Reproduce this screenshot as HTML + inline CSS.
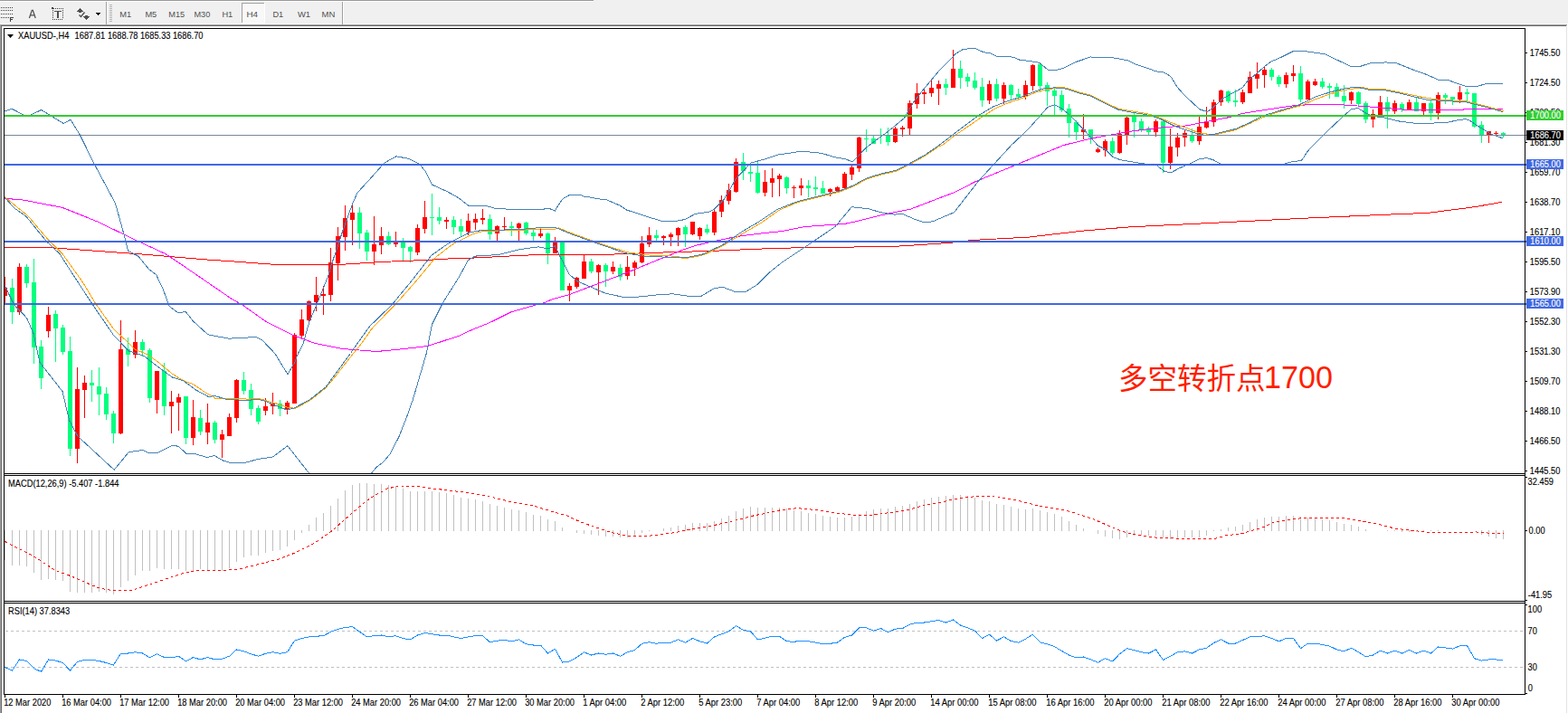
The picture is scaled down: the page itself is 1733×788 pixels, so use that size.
<!DOCTYPE html>
<html><head><meta charset="utf-8"><title>XAUUSD H4</title><style>html,body{margin:0;padding:0;background:#fff;overflow:hidden}body{width:1733px;height:788px}</style></head><body>
<svg width="1733" height="788" viewBox="0 0 1733 788" font-family="Liberation Sans, sans-serif" style="display:block">
<defs><clipPath id="cm"><rect x="5" y="32" width="1680" height="491"/></clipPath><clipPath id="c2"><rect x="5" y="526" width="1680" height="138"/></clipPath><clipPath id="c3"><rect x="5" y="667" width="1680" height="100"/></clipPath></defs>
<rect x="0" y="0" width="1733" height="788" fill="#fff"/>
<g shape-rendering="crispEdges">
<rect x="0" y="0" width="1733" height="27" fill="#f0f0f0"/>
<rect x="0" y="0" width="656" height="1" fill="#999"/>
<rect x="0" y="1" width="656" height="1" fill="#fff"/>
<rect x="0" y="26" width="1733" height="1" fill="#f7f7f7"/>
<rect x="0" y="27" width="1732" height="1" fill="#a0a0a0"/>
<rect x="1" y="28" width="1730" height="1" fill="#696969"/>
<rect x="0" y="27" width="1" height="761" fill="#a0a0a0"/>
<rect x="1" y="28" width="1" height="760" fill="#696969"/>
<rect x="1731" y="28" width="1" height="760" fill="#e3e3e3"/>
<rect x="1732" y="26" width="1" height="762" fill="#fff"/>
<rect x="1" y="8" width="1" height="1" fill="#404040"/>
<rect x="3" y="8" width="1" height="1" fill="#404040"/>
<rect x="5" y="8" width="1" height="1" fill="#404040"/>
<rect x="7" y="8" width="1" height="1" fill="#404040"/>
<rect x="9" y="8" width="1" height="1" fill="#404040"/>
<rect x="11" y="8" width="1" height="1" fill="#404040"/>
<rect x="13" y="8" width="1" height="1" fill="#404040"/>
<rect x="1" y="11" width="1" height="1" fill="#404040"/>
<rect x="3" y="11" width="1" height="1" fill="#404040"/>
<rect x="5" y="11" width="1" height="1" fill="#404040"/>
<rect x="7" y="11" width="1" height="1" fill="#404040"/>
<rect x="9" y="11" width="1" height="1" fill="#404040"/>
<rect x="11" y="11" width="1" height="1" fill="#404040"/>
<rect x="13" y="11" width="1" height="1" fill="#404040"/>
<rect x="1" y="15" width="1" height="1" fill="#404040"/>
<rect x="3" y="15" width="1" height="1" fill="#404040"/>
<rect x="5" y="15" width="1" height="1" fill="#404040"/>
<rect x="7" y="15" width="1" height="1" fill="#404040"/>
<rect x="9" y="15" width="1" height="1" fill="#404040"/>
<rect x="11" y="15" width="1" height="1" fill="#404040"/>
<rect x="13" y="15" width="1" height="1" fill="#404040"/>
<rect x="1" y="19" width="1" height="1" fill="#404040"/>
<rect x="3" y="19" width="1" height="1" fill="#404040"/>
<rect x="5" y="19" width="1" height="1" fill="#404040"/>
<rect x="7" y="19" width="1" height="1" fill="#404040"/>
<rect x="9" y="19" width="1" height="1" fill="#404040"/>
<rect x="11" y="19" width="1" height="5" fill="#404040"/>
<rect x="11" y="19" width="4" height="1" fill="#404040"/>
<rect x="11" y="21" width="3" height="1" fill="#404040"/>
<rect x="61" y="9" width="1" height="1" fill="#404040"/>
<rect x="63" y="9" width="1" height="1" fill="#404040"/>
<rect x="65" y="9" width="1" height="1" fill="#404040"/>
<rect x="67" y="9" width="1" height="1" fill="#404040"/>
<rect x="69" y="9" width="1" height="1" fill="#404040"/>
<rect x="58" y="21" width="1" height="1" fill="#404040"/>
<rect x="60" y="21" width="1" height="1" fill="#404040"/>
<rect x="62" y="21" width="1" height="1" fill="#404040"/>
<rect x="64" y="21" width="1" height="1" fill="#404040"/>
<rect x="66" y="21" width="1" height="1" fill="#404040"/>
<rect x="68" y="21" width="1" height="1" fill="#404040"/>
<rect x="58" y="11" width="1" height="1" fill="#404040"/>
<rect x="69" y="11" width="1" height="1" fill="#404040"/>
<rect x="58" y="13" width="1" height="1" fill="#404040"/>
<rect x="69" y="13" width="1" height="1" fill="#404040"/>
<rect x="58" y="15" width="1" height="1" fill="#404040"/>
<rect x="69" y="15" width="1" height="1" fill="#404040"/>
<rect x="58" y="17" width="1" height="1" fill="#404040"/>
<rect x="69" y="17" width="1" height="1" fill="#404040"/>
<rect x="58" y="19" width="1" height="1" fill="#404040"/>
<rect x="69" y="19" width="1" height="1" fill="#404040"/>
<rect x="57" y="8" width="2" height="1" fill="#404040"/>
<rect x="57" y="9" width="3" height="1" fill="#404040"/>
<rect x="60" y="12" width="8" height="1" fill="#505050"/>
<rect x="63" y="12" width="2" height="8" fill="#505050"/>
<rect x="88" y="9" width="1" height="1" fill="#505050"/>
<rect x="87" y="10" width="3" height="1" fill="#505050"/>
<rect x="86" y="11" width="5" height="1" fill="#505050"/>
<rect x="85" y="12" width="7" height="1" fill="#505050"/>
<rect x="87" y="13" width="3" height="1" fill="#505050"/>
<rect x="92" y="18" width="7" height="1" fill="#505050"/>
<rect x="93" y="19" width="5" height="1" fill="#505050"/>
<rect x="94" y="20" width="3" height="1" fill="#505050"/>
<rect x="95" y="21" width="1" height="1" fill="#505050"/>
<rect x="94" y="17" width="3" height="1" fill="#505050"/>
<rect x="106" y="14" width="5" height="1" fill="#000"/>
<rect x="107" y="15" width="3" height="1" fill="#000"/>
<rect x="108" y="16" width="1" height="1" fill="#000"/>
<rect x="117" y="2" width="1" height="25" fill="#a0a0a0"/>
<rect x="118" y="2" width="1" height="25" fill="#fff"/>
<rect x="378" y="2" width="1" height="25" fill="#a0a0a0"/>
<rect x="379" y="2" width="1" height="25" fill="#fff"/>
<rect x="121" y="5" width="3" height="1" fill="#b4b4b4"/>
<rect x="121" y="7" width="3" height="1" fill="#b4b4b4"/>
<rect x="121" y="9" width="3" height="1" fill="#b4b4b4"/>
<rect x="121" y="11" width="3" height="1" fill="#b4b4b4"/>
<rect x="121" y="13" width="3" height="1" fill="#b4b4b4"/>
<rect x="121" y="15" width="3" height="1" fill="#b4b4b4"/>
<rect x="121" y="17" width="3" height="1" fill="#b4b4b4"/>
<rect x="121" y="19" width="3" height="1" fill="#b4b4b4"/>
<rect x="121" y="21" width="3" height="1" fill="#b4b4b4"/>
<rect x="121" y="23" width="3" height="1" fill="#b4b4b4"/>
<rect x="268" y="4" width="24" height="21" fill="#f8f8f8"/>
<rect x="267" y="3" width="25" height="1" fill="#a0a0a0"/>
<rect x="267" y="3" width="1" height="22" fill="#a0a0a0"/>
<rect x="267" y="25" width="26" height="1" fill="#fff"/>
<rect x="292" y="3" width="1" height="23" fill="#fff"/>
</g>
<polyline points="87.5,16.5 89.5,18.5 93.5,13.5" fill="none" stroke="#505050" stroke-width="1.4"/>
<path d="M32.4 20L35.3 11.4H36.3L39.2 20M33.6 16.9H38" fill="none" stroke="#505050" stroke-width="1.25"/>
<text x="132.3" y="19" font-size="9.8" fill="#505050" textLength="12.9" lengthAdjust="spacingAndGlyphs" xml:space="preserve">M1</text>
<text x="160.4" y="19" font-size="9.8" fill="#505050" textLength="12.9" lengthAdjust="spacingAndGlyphs" xml:space="preserve">M5</text>
<text x="186.3" y="19" font-size="9.8" fill="#505050" textLength="17.9" lengthAdjust="spacingAndGlyphs" xml:space="preserve">M15</text>
<text x="214.5" y="19" font-size="9.8" fill="#505050" textLength="17.8" lengthAdjust="spacingAndGlyphs" xml:space="preserve">M30</text>
<text x="245.4" y="19" font-size="9.8" fill="#505050" textLength="11.9" lengthAdjust="spacingAndGlyphs" xml:space="preserve">H1</text>
<text x="272.4" y="19" font-size="9.8" fill="#505050" textLength="12.6" lengthAdjust="spacingAndGlyphs" xml:space="preserve">H4</text>
<text x="301.4" y="19" font-size="9.8" fill="#505050" textLength="11.8" lengthAdjust="spacingAndGlyphs" xml:space="preserve">D1</text>
<text x="328.9" y="19" font-size="9.8" fill="#505050" textLength="14.2" lengthAdjust="spacingAndGlyphs" xml:space="preserve">W1</text>
<text x="355.6" y="19" font-size="9.8" fill="#505050" textLength="14.8" lengthAdjust="spacingAndGlyphs" xml:space="preserve">MN</text>
<g shape-rendering="crispEdges">
<rect x="4" y="31" width="1" height="737" fill="#000"/>
<rect x="1685" y="31" width="1" height="737" fill="#000"/>
<rect x="4" y="31" width="1682" height="1" fill="#000"/>
<rect x="4" y="523" width="1682" height="1" fill="#000"/>
<rect x="4" y="525" width="1682" height="1" fill="#000"/>
<rect x="4" y="664" width="1682" height="1" fill="#000"/>
<rect x="4" y="666" width="1682" height="1" fill="#000"/>
<rect x="4" y="767" width="1682" height="1" fill="#000"/>
<rect x="1686" y="58" width="2" height="1" fill="#000"/>
<rect x="1686" y="91" width="2" height="1" fill="#000"/>
<rect x="1686" y="124" width="2" height="1" fill="#000"/>
<rect x="1686" y="157" width="2" height="1" fill="#000"/>
<rect x="1686" y="190" width="2" height="1" fill="#000"/>
<rect x="1686" y="223" width="2" height="1" fill="#000"/>
<rect x="1686" y="256" width="2" height="1" fill="#000"/>
<rect x="1686" y="289" width="2" height="1" fill="#000"/>
<rect x="1686" y="322" width="2" height="1" fill="#000"/>
<rect x="1686" y="355" width="2" height="1" fill="#000"/>
<rect x="1686" y="388" width="2" height="1" fill="#000"/>
<rect x="1686" y="421" width="2" height="1" fill="#000"/>
<rect x="1686" y="454" width="2" height="1" fill="#000"/>
<rect x="1686" y="487" width="2" height="1" fill="#000"/>
<rect x="1686" y="520" width="2" height="1" fill="#000"/>
<rect x="1686" y="527" width="2" height="1" fill="#000"/>
<rect x="1686" y="586" width="2" height="1" fill="#000"/>
<rect x="1686" y="663" width="2" height="1" fill="#000"/>
<rect x="1686" y="668" width="2" height="1" fill="#000"/>
<rect x="1686" y="766" width="2" height="1" fill="#000"/>
<rect x="5" y="768" width="1" height="3" fill="#000"/>
<rect x="69" y="768" width="1" height="3" fill="#000"/>
<rect x="133" y="768" width="1" height="3" fill="#000"/>
<rect x="197" y="768" width="1" height="3" fill="#000"/>
<rect x="261" y="768" width="1" height="3" fill="#000"/>
<rect x="325" y="768" width="1" height="3" fill="#000"/>
<rect x="389" y="768" width="1" height="3" fill="#000"/>
<rect x="453" y="768" width="1" height="3" fill="#000"/>
<rect x="517" y="768" width="1" height="3" fill="#000"/>
<rect x="581" y="768" width="1" height="3" fill="#000"/>
<rect x="645" y="768" width="1" height="3" fill="#000"/>
<rect x="709" y="768" width="1" height="3" fill="#000"/>
<rect x="773" y="768" width="1" height="3" fill="#000"/>
<rect x="837" y="768" width="1" height="3" fill="#000"/>
<rect x="901" y="768" width="1" height="3" fill="#000"/>
<rect x="965" y="768" width="1" height="3" fill="#000"/>
<rect x="1029" y="768" width="1" height="3" fill="#000"/>
<rect x="1093" y="768" width="1" height="3" fill="#000"/>
<rect x="1157" y="768" width="1" height="3" fill="#000"/>
<rect x="1221" y="768" width="1" height="3" fill="#000"/>
<rect x="1285" y="768" width="1" height="3" fill="#000"/>
<rect x="1349" y="768" width="1" height="3" fill="#000"/>
<rect x="1413" y="768" width="1" height="3" fill="#000"/>
<rect x="1477" y="768" width="1" height="3" fill="#000"/>
<rect x="1541" y="768" width="1" height="3" fill="#000"/>
<rect x="1605" y="768" width="1" height="3" fill="#000"/>
</g>
<g clip-path="url(#cm)" shape-rendering="crispEdges">
<rect x="5" y="306" width="1" height="30" fill="#ff0000"/>
<rect x="3" y="318" width="5" height="9" fill="#ff0000"/>
<rect x="13" y="308" width="1" height="50" fill="#00ff7f"/>
<rect x="11" y="318" width="5" height="27" fill="#00ff7f"/>
<rect x="21" y="291" width="1" height="57" fill="#ff0000"/>
<rect x="19" y="295" width="5" height="50" fill="#ff0000"/>
<rect x="29" y="292" width="1" height="26" fill="#00ff7f"/>
<rect x="27" y="295" width="5" height="18" fill="#00ff7f"/>
<rect x="37" y="286" width="1" height="116" fill="#00ff7f"/>
<rect x="35" y="312" width="5" height="72" fill="#00ff7f"/>
<rect x="45" y="376" width="1" height="54" fill="#00ff7f"/>
<rect x="43" y="383" width="5" height="35" fill="#00ff7f"/>
<rect x="53" y="339" width="1" height="34" fill="#ff0000"/>
<rect x="51" y="348" width="5" height="18" fill="#ff0000"/>
<rect x="61" y="343" width="1" height="57" fill="#00ff7f"/>
<rect x="59" y="347" width="5" height="16" fill="#00ff7f"/>
<rect x="69" y="359" width="1" height="33" fill="#00ff7f"/>
<rect x="67" y="362" width="5" height="27" fill="#00ff7f"/>
<rect x="77" y="372" width="1" height="132" fill="#00ff7f"/>
<rect x="75" y="388" width="5" height="108" fill="#00ff7f"/>
<rect x="85" y="406" width="1" height="106" fill="#ff0000"/>
<rect x="83" y="430" width="5" height="66" fill="#ff0000"/>
<rect x="93" y="415" width="1" height="47" fill="#ff0000"/>
<rect x="91" y="423" width="5" height="8" fill="#ff0000"/>
<rect x="101" y="409" width="1" height="35" fill="#00ff7f"/>
<rect x="99" y="423" width="5" height="3" fill="#00ff7f"/>
<rect x="109" y="406" width="1" height="53" fill="#00ff7f"/>
<rect x="107" y="427" width="5" height="9" fill="#00ff7f"/>
<rect x="117" y="428" width="1" height="36" fill="#00ff7f"/>
<rect x="115" y="435" width="5" height="23" fill="#00ff7f"/>
<rect x="125" y="454" width="1" height="36" fill="#00ff7f"/>
<rect x="123" y="457" width="5" height="22" fill="#00ff7f"/>
<rect x="133" y="354" width="1" height="126" fill="#ff0000"/>
<rect x="131" y="386" width="5" height="93" fill="#ff0000"/>
<rect x="141" y="373" width="1" height="32" fill="#00ff7f"/>
<rect x="139" y="386" width="5" height="6" fill="#00ff7f"/>
<rect x="149" y="365" width="1" height="31" fill="#ff0000"/>
<rect x="147" y="378" width="5" height="14" fill="#ff0000"/>
<rect x="157" y="375" width="1" height="19" fill="#00ff7f"/>
<rect x="155" y="378" width="5" height="9" fill="#00ff7f"/>
<rect x="165" y="385" width="1" height="60" fill="#00ff7f"/>
<rect x="163" y="387" width="5" height="53" fill="#00ff7f"/>
<rect x="173" y="410" width="1" height="47" fill="#ff0000"/>
<rect x="171" y="410" width="5" height="32" fill="#ff0000"/>
<rect x="181" y="401" width="1" height="58" fill="#00ff7f"/>
<rect x="179" y="410" width="5" height="39" fill="#00ff7f"/>
<rect x="189" y="432" width="1" height="47" fill="#ff0000"/>
<rect x="187" y="444" width="5" height="5" fill="#ff0000"/>
<rect x="197" y="435" width="1" height="41" fill="#ff0000"/>
<rect x="195" y="439" width="5" height="6" fill="#ff0000"/>
<rect x="205" y="438" width="1" height="53" fill="#00ff7f"/>
<rect x="203" y="438" width="5" height="46" fill="#00ff7f"/>
<rect x="213" y="442" width="1" height="50" fill="#ff0000"/>
<rect x="211" y="461" width="5" height="23" fill="#ff0000"/>
<rect x="221" y="453" width="1" height="28" fill="#00ff7f"/>
<rect x="219" y="462" width="5" height="15" fill="#00ff7f"/>
<rect x="229" y="446" width="1" height="45" fill="#ff0000"/>
<rect x="227" y="467" width="5" height="11" fill="#ff0000"/>
<rect x="237" y="465" width="1" height="25" fill="#00ff7f"/>
<rect x="235" y="467" width="5" height="19" fill="#00ff7f"/>
<rect x="245" y="475" width="1" height="31" fill="#ff0000"/>
<rect x="243" y="480" width="5" height="6" fill="#ff0000"/>
<rect x="253" y="457" width="1" height="25" fill="#ff0000"/>
<rect x="251" y="461" width="5" height="21" fill="#ff0000"/>
<rect x="261" y="419" width="1" height="48" fill="#ff0000"/>
<rect x="259" y="420" width="5" height="42" fill="#ff0000"/>
<rect x="269" y="411" width="1" height="25" fill="#00ff7f"/>
<rect x="267" y="420" width="5" height="12" fill="#00ff7f"/>
<rect x="277" y="424" width="1" height="35" fill="#00ff7f"/>
<rect x="275" y="431" width="5" height="21" fill="#00ff7f"/>
<rect x="285" y="448" width="1" height="21" fill="#00ff7f"/>
<rect x="283" y="451" width="5" height="15" fill="#00ff7f"/>
<rect x="293" y="440" width="1" height="19" fill="#ff0000"/>
<rect x="291" y="449" width="5" height="5" fill="#ff0000"/>
<rect x="301" y="434" width="1" height="24" fill="#ff0000"/>
<rect x="299" y="446" width="5" height="3" fill="#ff0000"/>
<rect x="309" y="442" width="1" height="18" fill="#00ff7f"/>
<rect x="307" y="446" width="5" height="6" fill="#00ff7f"/>
<rect x="317" y="443" width="1" height="15" fill="#ff0000"/>
<rect x="315" y="445" width="5" height="7" fill="#ff0000"/>
<rect x="325" y="368" width="1" height="78" fill="#ff0000"/>
<rect x="323" y="370" width="5" height="76" fill="#ff0000"/>
<rect x="333" y="342" width="1" height="32" fill="#ff0000"/>
<rect x="331" y="353" width="5" height="18" fill="#ff0000"/>
<rect x="341" y="332" width="1" height="25" fill="#ff0000"/>
<rect x="339" y="333" width="5" height="21" fill="#ff0000"/>
<rect x="349" y="306" width="1" height="38" fill="#ff0000"/>
<rect x="347" y="326" width="5" height="8" fill="#ff0000"/>
<rect x="357" y="316" width="1" height="32" fill="#ff0000"/>
<rect x="355" y="325" width="5" height="2" fill="#ff0000"/>
<rect x="365" y="274" width="1" height="59" fill="#ff0000"/>
<rect x="363" y="290" width="5" height="36" fill="#ff0000"/>
<rect x="373" y="251" width="1" height="59" fill="#ff0000"/>
<rect x="371" y="261" width="5" height="30" fill="#ff0000"/>
<rect x="381" y="227" width="1" height="50" fill="#ff0000"/>
<rect x="379" y="241" width="5" height="21" fill="#ff0000"/>
<rect x="389" y="225" width="1" height="46" fill="#ff0000"/>
<rect x="387" y="235" width="5" height="8" fill="#ff0000"/>
<rect x="397" y="229" width="1" height="46" fill="#00ff7f"/>
<rect x="395" y="235" width="5" height="23" fill="#00ff7f"/>
<rect x="405" y="254" width="1" height="34" fill="#00ff7f"/>
<rect x="403" y="257" width="5" height="21" fill="#00ff7f"/>
<rect x="413" y="239" width="1" height="54" fill="#ff0000"/>
<rect x="411" y="270" width="5" height="8" fill="#ff0000"/>
<rect x="421" y="251" width="1" height="30" fill="#ff0000"/>
<rect x="419" y="261" width="5" height="10" fill="#ff0000"/>
<rect x="429" y="256" width="1" height="15" fill="#00ff7f"/>
<rect x="427" y="261" width="5" height="9" fill="#00ff7f"/>
<rect x="437" y="256" width="1" height="17" fill="#ff0000"/>
<rect x="435" y="268" width="5" height="2" fill="#ff0000"/>
<rect x="445" y="263" width="1" height="25" fill="#00ff7f"/>
<rect x="443" y="268" width="5" height="6" fill="#00ff7f"/>
<rect x="453" y="272" width="1" height="18" fill="#00ff7f"/>
<rect x="451" y="273" width="5" height="5" fill="#00ff7f"/>
<rect x="461" y="248" width="1" height="34" fill="#ff0000"/>
<rect x="459" y="252" width="5" height="27" fill="#ff0000"/>
<rect x="469" y="222" width="1" height="36" fill="#ff0000"/>
<rect x="467" y="240" width="5" height="13" fill="#ff0000"/>
<rect x="477" y="214" width="1" height="46" fill="#00ff7f"/>
<rect x="475" y="240" width="5" height="1" fill="#00ff7f"/>
<rect x="485" y="229" width="1" height="19" fill="#00ff7f"/>
<rect x="483" y="240" width="5" height="4" fill="#00ff7f"/>
<rect x="493" y="240" width="1" height="13" fill="#ff0000"/>
<rect x="491" y="243" width="5" height="2" fill="#ff0000"/>
<rect x="501" y="239" width="1" height="20" fill="#00ff7f"/>
<rect x="499" y="243" width="5" height="8" fill="#00ff7f"/>
<rect x="509" y="242" width="1" height="19" fill="#00ff7f"/>
<rect x="507" y="250" width="5" height="6" fill="#00ff7f"/>
<rect x="517" y="236" width="1" height="24" fill="#ff0000"/>
<rect x="515" y="244" width="5" height="12" fill="#ff0000"/>
<rect x="525" y="236" width="1" height="18" fill="#ff0000"/>
<rect x="523" y="242" width="5" height="4" fill="#ff0000"/>
<rect x="533" y="231" width="1" height="17" fill="#ff0000"/>
<rect x="531" y="241" width="5" height="2" fill="#ff0000"/>
<rect x="541" y="237" width="1" height="28" fill="#00ff7f"/>
<rect x="539" y="242" width="5" height="17" fill="#00ff7f"/>
<rect x="549" y="249" width="1" height="17" fill="#ff0000"/>
<rect x="547" y="250" width="5" height="8" fill="#ff0000"/>
<rect x="557" y="240" width="1" height="15" fill="#ff0000"/>
<rect x="555" y="250" width="5" height="1" fill="#ff0000"/>
<rect x="565" y="245" width="1" height="16" fill="#00ff7f"/>
<rect x="563" y="250" width="5" height="2" fill="#00ff7f"/>
<rect x="573" y="246" width="1" height="20" fill="#ff0000"/>
<rect x="571" y="247" width="5" height="5" fill="#ff0000"/>
<rect x="581" y="245" width="1" height="15" fill="#00ff7f"/>
<rect x="579" y="246" width="5" height="12" fill="#00ff7f"/>
<rect x="589" y="254" width="1" height="12" fill="#00ff7f"/>
<rect x="587" y="257" width="5" height="4" fill="#00ff7f"/>
<rect x="597" y="253" width="1" height="10" fill="#ff0000"/>
<rect x="595" y="258" width="5" height="3" fill="#ff0000"/>
<rect x="605" y="257" width="1" height="35" fill="#00ff7f"/>
<rect x="603" y="258" width="5" height="22" fill="#00ff7f"/>
<rect x="613" y="262" width="1" height="18" fill="#ff0000"/>
<rect x="611" y="267" width="5" height="13" fill="#ff0000"/>
<rect x="621" y="268" width="1" height="53" fill="#00ff7f"/>
<rect x="619" y="268" width="5" height="53" fill="#00ff7f"/>
<rect x="629" y="313" width="1" height="20" fill="#ff0000"/>
<rect x="627" y="316" width="5" height="5" fill="#ff0000"/>
<rect x="637" y="306" width="1" height="13" fill="#ff0000"/>
<rect x="635" y="307" width="5" height="10" fill="#ff0000"/>
<rect x="645" y="281" width="1" height="27" fill="#ff0000"/>
<rect x="643" y="289" width="5" height="19" fill="#ff0000"/>
<rect x="653" y="286" width="1" height="16" fill="#00ff7f"/>
<rect x="651" y="289" width="5" height="11" fill="#00ff7f"/>
<rect x="661" y="292" width="1" height="34" fill="#ff0000"/>
<rect x="659" y="293" width="5" height="8" fill="#ff0000"/>
<rect x="669" y="291" width="1" height="26" fill="#00ff7f"/>
<rect x="667" y="293" width="5" height="7" fill="#00ff7f"/>
<rect x="677" y="289" width="1" height="14" fill="#ff0000"/>
<rect x="675" y="295" width="5" height="5" fill="#ff0000"/>
<rect x="685" y="292" width="1" height="18" fill="#00ff7f"/>
<rect x="683" y="296" width="5" height="10" fill="#00ff7f"/>
<rect x="693" y="283" width="1" height="26" fill="#ff0000"/>
<rect x="691" y="295" width="5" height="10" fill="#ff0000"/>
<rect x="701" y="288" width="1" height="17" fill="#ff0000"/>
<rect x="699" y="290" width="5" height="6" fill="#ff0000"/>
<rect x="709" y="261" width="1" height="30" fill="#ff0000"/>
<rect x="707" y="269" width="5" height="21" fill="#ff0000"/>
<rect x="717" y="251" width="1" height="22" fill="#ff0000"/>
<rect x="715" y="260" width="5" height="10" fill="#ff0000"/>
<rect x="725" y="254" width="1" height="12" fill="#00ff7f"/>
<rect x="723" y="260" width="5" height="3" fill="#00ff7f"/>
<rect x="733" y="260" width="1" height="11" fill="#ff0000"/>
<rect x="731" y="261" width="5" height="2" fill="#ff0000"/>
<rect x="741" y="257" width="1" height="15" fill="#ff0000"/>
<rect x="739" y="259" width="5" height="3" fill="#ff0000"/>
<rect x="749" y="251" width="1" height="21" fill="#ff0000"/>
<rect x="747" y="252" width="5" height="8" fill="#ff0000"/>
<rect x="757" y="249" width="1" height="24" fill="#00ff7f"/>
<rect x="755" y="251" width="5" height="8" fill="#00ff7f"/>
<rect x="765" y="245" width="1" height="15" fill="#ff0000"/>
<rect x="763" y="245" width="5" height="14" fill="#ff0000"/>
<rect x="773" y="251" width="1" height="14" fill="#ff0000"/>
<rect x="771" y="252" width="5" height="9" fill="#ff0000"/>
<rect x="781" y="248" width="1" height="11" fill="#00ff7f"/>
<rect x="779" y="253" width="5" height="4" fill="#00ff7f"/>
<rect x="789" y="231" width="1" height="29" fill="#ff0000"/>
<rect x="787" y="234" width="5" height="23" fill="#ff0000"/>
<rect x="797" y="216" width="1" height="24" fill="#ff0000"/>
<rect x="795" y="221" width="5" height="13" fill="#ff0000"/>
<rect x="805" y="203" width="1" height="23" fill="#ff0000"/>
<rect x="803" y="210" width="5" height="12" fill="#ff0000"/>
<rect x="813" y="175" width="1" height="38" fill="#ff0000"/>
<rect x="811" y="179" width="5" height="33" fill="#ff0000"/>
<rect x="821" y="169" width="1" height="30" fill="#00ff7f"/>
<rect x="819" y="179" width="5" height="10" fill="#00ff7f"/>
<rect x="829" y="182" width="1" height="19" fill="#00ff7f"/>
<rect x="827" y="190" width="5" height="2" fill="#00ff7f"/>
<rect x="837" y="178" width="1" height="36" fill="#00ff7f"/>
<rect x="835" y="191" width="5" height="22" fill="#00ff7f"/>
<rect x="845" y="188" width="1" height="29" fill="#ff0000"/>
<rect x="843" y="201" width="5" height="12" fill="#ff0000"/>
<rect x="853" y="186" width="1" height="32" fill="#ff0000"/>
<rect x="851" y="197" width="5" height="5" fill="#ff0000"/>
<rect x="861" y="192" width="1" height="25" fill="#ff0000"/>
<rect x="859" y="194" width="5" height="4" fill="#ff0000"/>
<rect x="869" y="195" width="1" height="19" fill="#00ff7f"/>
<rect x="867" y="196" width="5" height="12" fill="#00ff7f"/>
<rect x="877" y="205" width="1" height="14" fill="#ff0000"/>
<rect x="875" y="207" width="5" height="1" fill="#ff0000"/>
<rect x="885" y="197" width="1" height="19" fill="#ff0000"/>
<rect x="883" y="205" width="5" height="3" fill="#ff0000"/>
<rect x="893" y="199" width="1" height="19" fill="#00ff7f"/>
<rect x="891" y="205" width="5" height="3" fill="#00ff7f"/>
<rect x="901" y="195" width="1" height="21" fill="#00ff7f"/>
<rect x="899" y="207" width="5" height="2" fill="#00ff7f"/>
<rect x="909" y="200" width="1" height="14" fill="#00ff7f"/>
<rect x="907" y="208" width="5" height="6" fill="#00ff7f"/>
<rect x="917" y="208" width="1" height="9" fill="#ff0000"/>
<rect x="915" y="209" width="5" height="3" fill="#ff0000"/>
<rect x="925" y="206" width="1" height="6" fill="#ff0000"/>
<rect x="923" y="207" width="5" height="4" fill="#ff0000"/>
<rect x="933" y="190" width="1" height="18" fill="#ff0000"/>
<rect x="931" y="192" width="5" height="16" fill="#ff0000"/>
<rect x="941" y="183" width="1" height="16" fill="#ff0000"/>
<rect x="939" y="185" width="5" height="8" fill="#ff0000"/>
<rect x="949" y="151" width="1" height="39" fill="#ff0000"/>
<rect x="947" y="152" width="5" height="34" fill="#ff0000"/>
<rect x="957" y="143" width="1" height="25" fill="#00ff7f"/>
<rect x="955" y="153" width="5" height="1" fill="#00ff7f"/>
<rect x="965" y="150" width="1" height="9" fill="#00ff7f"/>
<rect x="963" y="153" width="5" height="6" fill="#00ff7f"/>
<rect x="973" y="142" width="1" height="17" fill="#00ff7f"/>
<rect x="971" y="149" width="5" height="1" fill="#00ff7f"/>
<rect x="981" y="141" width="1" height="20" fill="#00ff7f"/>
<rect x="979" y="149" width="5" height="8" fill="#00ff7f"/>
<rect x="989" y="140" width="1" height="18" fill="#ff0000"/>
<rect x="987" y="142" width="5" height="15" fill="#ff0000"/>
<rect x="997" y="139" width="1" height="12" fill="#ff0000"/>
<rect x="995" y="141" width="5" height="2" fill="#ff0000"/>
<rect x="1005" y="111" width="1" height="39" fill="#ff0000"/>
<rect x="1003" y="114" width="5" height="28" fill="#ff0000"/>
<rect x="1013" y="92" width="1" height="28" fill="#ff0000"/>
<rect x="1011" y="103" width="5" height="12" fill="#ff0000"/>
<rect x="1021" y="97" width="1" height="18" fill="#ff0000"/>
<rect x="1019" y="102" width="5" height="2" fill="#ff0000"/>
<rect x="1029" y="89" width="1" height="18" fill="#ff0000"/>
<rect x="1027" y="97" width="5" height="6" fill="#ff0000"/>
<rect x="1037" y="89" width="1" height="27" fill="#ff0000"/>
<rect x="1035" y="93" width="5" height="5" fill="#ff0000"/>
<rect x="1045" y="87" width="1" height="18" fill="#00ff7f"/>
<rect x="1043" y="93" width="5" height="4" fill="#00ff7f"/>
<rect x="1053" y="55" width="1" height="42" fill="#ff0000"/>
<rect x="1051" y="76" width="5" height="21" fill="#ff0000"/>
<rect x="1061" y="67" width="1" height="31" fill="#00ff7f"/>
<rect x="1059" y="76" width="5" height="10" fill="#00ff7f"/>
<rect x="1069" y="81" width="1" height="15" fill="#00ff7f"/>
<rect x="1067" y="85" width="5" height="5" fill="#00ff7f"/>
<rect x="1077" y="80" width="1" height="19" fill="#00ff7f"/>
<rect x="1075" y="89" width="5" height="8" fill="#00ff7f"/>
<rect x="1085" y="86" width="1" height="32" fill="#00ff7f"/>
<rect x="1083" y="96" width="5" height="15" fill="#00ff7f"/>
<rect x="1093" y="89" width="1" height="26" fill="#ff0000"/>
<rect x="1091" y="93" width="5" height="18" fill="#ff0000"/>
<rect x="1101" y="87" width="1" height="25" fill="#00ff7f"/>
<rect x="1099" y="93" width="5" height="16" fill="#00ff7f"/>
<rect x="1109" y="91" width="1" height="24" fill="#ff0000"/>
<rect x="1107" y="94" width="5" height="15" fill="#ff0000"/>
<rect x="1117" y="93" width="1" height="17" fill="#00ff7f"/>
<rect x="1115" y="94" width="5" height="11" fill="#00ff7f"/>
<rect x="1125" y="98" width="1" height="12" fill="#00ff7f"/>
<rect x="1123" y="104" width="5" height="3" fill="#00ff7f"/>
<rect x="1133" y="89" width="1" height="21" fill="#ff0000"/>
<rect x="1131" y="94" width="5" height="13" fill="#ff0000"/>
<rect x="1141" y="71" width="1" height="29" fill="#ff0000"/>
<rect x="1139" y="72" width="5" height="23" fill="#ff0000"/>
<rect x="1149" y="69" width="1" height="33" fill="#00ff7f"/>
<rect x="1147" y="71" width="5" height="24" fill="#00ff7f"/>
<rect x="1157" y="91" width="1" height="26" fill="#00ff7f"/>
<rect x="1155" y="94" width="5" height="7" fill="#00ff7f"/>
<rect x="1165" y="98" width="1" height="29" fill="#00ff7f"/>
<rect x="1163" y="100" width="5" height="6" fill="#00ff7f"/>
<rect x="1173" y="100" width="1" height="24" fill="#00ff7f"/>
<rect x="1171" y="105" width="5" height="17" fill="#00ff7f"/>
<rect x="1181" y="115" width="1" height="37" fill="#00ff7f"/>
<rect x="1179" y="120" width="5" height="16" fill="#00ff7f"/>
<rect x="1189" y="133" width="1" height="22" fill="#00ff7f"/>
<rect x="1187" y="135" width="5" height="11" fill="#00ff7f"/>
<rect x="1197" y="126" width="1" height="28" fill="#ff0000"/>
<rect x="1195" y="143" width="5" height="3" fill="#ff0000"/>
<rect x="1205" y="143" width="1" height="16" fill="#00ff7f"/>
<rect x="1203" y="143" width="5" height="9" fill="#00ff7f"/>
<rect x="1213" y="163" width="1" height="6" fill="#ff0000"/>
<rect x="1211" y="165" width="5" height="3" fill="#ff0000"/>
<rect x="1221" y="154" width="1" height="19" fill="#ff0000"/>
<rect x="1219" y="156" width="5" height="10" fill="#ff0000"/>
<rect x="1229" y="152" width="1" height="19" fill="#00ff7f"/>
<rect x="1227" y="156" width="5" height="13" fill="#00ff7f"/>
<rect x="1237" y="144" width="1" height="26" fill="#ff0000"/>
<rect x="1235" y="148" width="5" height="21" fill="#ff0000"/>
<rect x="1245" y="129" width="1" height="31" fill="#ff0000"/>
<rect x="1243" y="130" width="5" height="19" fill="#ff0000"/>
<rect x="1253" y="125" width="1" height="27" fill="#00ff7f"/>
<rect x="1251" y="129" width="5" height="6" fill="#00ff7f"/>
<rect x="1261" y="131" width="1" height="15" fill="#00ff7f"/>
<rect x="1259" y="134" width="5" height="9" fill="#00ff7f"/>
<rect x="1269" y="140" width="1" height="10" fill="#00ff7f"/>
<rect x="1267" y="143" width="5" height="3" fill="#00ff7f"/>
<rect x="1277" y="132" width="1" height="19" fill="#ff0000"/>
<rect x="1275" y="134" width="5" height="12" fill="#ff0000"/>
<rect x="1285" y="132" width="1" height="59" fill="#00ff7f"/>
<rect x="1283" y="134" width="5" height="46" fill="#00ff7f"/>
<rect x="1293" y="142" width="1" height="45" fill="#ff0000"/>
<rect x="1291" y="162" width="5" height="18" fill="#ff0000"/>
<rect x="1301" y="147" width="1" height="26" fill="#ff0000"/>
<rect x="1299" y="152" width="5" height="11" fill="#ff0000"/>
<rect x="1309" y="144" width="1" height="18" fill="#ff0000"/>
<rect x="1307" y="147" width="5" height="5" fill="#ff0000"/>
<rect x="1317" y="142" width="1" height="16" fill="#00ff7f"/>
<rect x="1315" y="149" width="5" height="7" fill="#00ff7f"/>
<rect x="1325" y="129" width="1" height="31" fill="#ff0000"/>
<rect x="1323" y="140" width="5" height="16" fill="#ff0000"/>
<rect x="1333" y="118" width="1" height="24" fill="#ff0000"/>
<rect x="1331" y="134" width="5" height="7" fill="#ff0000"/>
<rect x="1341" y="110" width="1" height="30" fill="#ff0000"/>
<rect x="1339" y="113" width="5" height="22" fill="#ff0000"/>
<rect x="1349" y="99" width="1" height="18" fill="#ff0000"/>
<rect x="1347" y="100" width="5" height="13" fill="#ff0000"/>
<rect x="1357" y="100" width="1" height="14" fill="#00ff7f"/>
<rect x="1355" y="101" width="5" height="11" fill="#00ff7f"/>
<rect x="1365" y="99" width="1" height="19" fill="#00ff7f"/>
<rect x="1363" y="111" width="5" height="2" fill="#00ff7f"/>
<rect x="1373" y="99" width="1" height="16" fill="#ff0000"/>
<rect x="1371" y="102" width="5" height="11" fill="#ff0000"/>
<rect x="1381" y="79" width="1" height="24" fill="#ff0000"/>
<rect x="1379" y="85" width="5" height="18" fill="#ff0000"/>
<rect x="1389" y="69" width="1" height="29" fill="#ff0000"/>
<rect x="1387" y="82" width="5" height="5" fill="#ff0000"/>
<rect x="1397" y="74" width="1" height="23" fill="#ff0000"/>
<rect x="1395" y="77" width="5" height="6" fill="#ff0000"/>
<rect x="1405" y="75" width="1" height="14" fill="#00ff7f"/>
<rect x="1403" y="77" width="5" height="8" fill="#00ff7f"/>
<rect x="1413" y="83" width="1" height="13" fill="#00ff7f"/>
<rect x="1411" y="85" width="5" height="8" fill="#00ff7f"/>
<rect x="1421" y="80" width="1" height="17" fill="#ff0000"/>
<rect x="1419" y="83" width="5" height="10" fill="#ff0000"/>
<rect x="1429" y="72" width="1" height="18" fill="#ff0000"/>
<rect x="1427" y="81" width="5" height="3" fill="#ff0000"/>
<rect x="1437" y="73" width="1" height="40" fill="#00ff7f"/>
<rect x="1435" y="81" width="5" height="29" fill="#00ff7f"/>
<rect x="1445" y="88" width="1" height="22" fill="#ff0000"/>
<rect x="1443" y="90" width="5" height="20" fill="#ff0000"/>
<rect x="1453" y="87" width="1" height="8" fill="#ff0000"/>
<rect x="1451" y="90" width="5" height="4" fill="#ff0000"/>
<rect x="1461" y="86" width="1" height="12" fill="#00ff7f"/>
<rect x="1459" y="90" width="5" height="6" fill="#00ff7f"/>
<rect x="1469" y="92" width="1" height="17" fill="#00ff7f"/>
<rect x="1467" y="95" width="5" height="2" fill="#00ff7f"/>
<rect x="1477" y="92" width="1" height="15" fill="#00ff7f"/>
<rect x="1475" y="96" width="5" height="11" fill="#00ff7f"/>
<rect x="1485" y="94" width="1" height="26" fill="#00ff7f"/>
<rect x="1483" y="106" width="5" height="6" fill="#00ff7f"/>
<rect x="1493" y="101" width="1" height="14" fill="#ff0000"/>
<rect x="1491" y="102" width="5" height="9" fill="#ff0000"/>
<rect x="1501" y="101" width="1" height="17" fill="#00ff7f"/>
<rect x="1499" y="102" width="5" height="13" fill="#00ff7f"/>
<rect x="1509" y="112" width="1" height="24" fill="#00ff7f"/>
<rect x="1507" y="114" width="5" height="18" fill="#00ff7f"/>
<rect x="1517" y="121" width="1" height="20" fill="#ff0000"/>
<rect x="1515" y="126" width="5" height="6" fill="#ff0000"/>
<rect x="1525" y="106" width="1" height="24" fill="#ff0000"/>
<rect x="1523" y="113" width="5" height="14" fill="#ff0000"/>
<rect x="1533" y="107" width="1" height="35" fill="#00ff7f"/>
<rect x="1531" y="113" width="5" height="10" fill="#00ff7f"/>
<rect x="1541" y="111" width="1" height="15" fill="#ff0000"/>
<rect x="1539" y="114" width="5" height="9" fill="#ff0000"/>
<rect x="1549" y="113" width="1" height="11" fill="#00ff7f"/>
<rect x="1547" y="115" width="5" height="6" fill="#00ff7f"/>
<rect x="1557" y="110" width="1" height="12" fill="#ff0000"/>
<rect x="1555" y="113" width="5" height="9" fill="#ff0000"/>
<rect x="1565" y="108" width="1" height="15" fill="#00ff7f"/>
<rect x="1563" y="113" width="5" height="10" fill="#00ff7f"/>
<rect x="1573" y="114" width="1" height="13" fill="#ff0000"/>
<rect x="1571" y="114" width="5" height="9" fill="#ff0000"/>
<rect x="1581" y="110" width="1" height="23" fill="#00ff7f"/>
<rect x="1579" y="114" width="5" height="11" fill="#00ff7f"/>
<rect x="1589" y="102" width="1" height="30" fill="#ff0000"/>
<rect x="1587" y="105" width="5" height="20" fill="#ff0000"/>
<rect x="1597" y="103" width="1" height="12" fill="#00ff7f"/>
<rect x="1595" y="105" width="5" height="3" fill="#00ff7f"/>
<rect x="1605" y="107" width="1" height="9" fill="#00ff7f"/>
<rect x="1603" y="107" width="5" height="3" fill="#00ff7f"/>
<rect x="1613" y="95" width="1" height="19" fill="#ff0000"/>
<rect x="1611" y="102" width="5" height="8" fill="#ff0000"/>
<rect x="1621" y="98" width="1" height="14" fill="#00ff7f"/>
<rect x="1619" y="102" width="5" height="2" fill="#00ff7f"/>
<rect x="1629" y="103" width="1" height="38" fill="#00ff7f"/>
<rect x="1627" y="103" width="5" height="37" fill="#00ff7f"/>
<rect x="1637" y="134" width="1" height="24" fill="#00ff7f"/>
<rect x="1635" y="138" width="5" height="11" fill="#00ff7f"/>
<rect x="1645" y="145" width="1" height="13" fill="#ff0000"/>
<rect x="1643" y="145" width="5" height="5" fill="#ff0000"/>
<rect x="1653" y="145" width="1" height="6" fill="#ff0000"/>
<rect x="1651" y="147" width="5" height="1" fill="#ff0000"/>
<rect x="1661" y="146" width="1" height="6" fill="#00ff7f"/>
<rect x="1659" y="147" width="5" height="3" fill="#00ff7f"/>
<polyline points="5.5,273.1 58.9,273.9 152.8,280.7 228.9,287 256.5,288.8 305.1,292.5 363.1,293 386,291.8 420.5,289.5 469.8,287.5 500.2,285.7 528.1,284.9 573.8,282.4 600.5,281.4 669,281.4 730,279.1 790.9,277.2 860.5,274.2 933.2,273.2 991.4,272.2 1049.5,268.4 1073.8,265.5 1136.8,262.1 1199.8,254.8 1248.3,250.9 1345.2,246.1 1442.2,241.2 1539.1,236.9 1577.9,235.4 1631.2,228.5 1660.3,223.3" fill="none" stroke="#ff0000" stroke-width="1"/>
<polyline points="5.5,219.3 25.9,221.1 69,229.4 107.1,244.7 152.8,266.7 183.2,280.7 212.5,300.5 256.5,330.7 268.7,337.5 294.5,355.8 323.5,370.3 347.9,379.4 378.4,385.5 416.5,388.5 446.9,385.5 472.8,382.5 507.8,371 521.1,364.7 541.4,356.5 564.8,344.9 591.2,337.3 600.5,335 610.5,330.7 629.4,325.5 661.4,313.4 694.9,300.5 730,286 752.8,276.9 768.1,271.5 790.9,266.2 813.8,261.5 836.5,258.5 864.5,255.5 889.5,250.5 933.2,247.5 942.8,245.5 973.3,237.9 1006.8,231 1034.2,220.4 1054.5,212.8 1078.5,200.5 1175.5,160.5 1190.5,156.8 1206.8,152.9 1221,150.2 1251.4,144.9 1281.9,141.1 1312.4,138.8 1327.5,135.8 1342.8,132.7 1358.1,129.7 1373.3,125.4 1401,121 1428.4,116.9 1446.7,115.7 1486.3,116 1507.5,117.5 1522.8,118.7 1553.3,121.3 1583.8,121.8 1617.3,121.8 1617.9,120.7 1661.3,120.1" fill="none" stroke="#ff00ff" stroke-width="1"/>
<polyline points="5.5,217.5 9.5,221.1 13.5,224.4 17.5,227.7 21.5,231 25.5,234.3 29.5,237.6 33.5,241.7 37.5,246.4 41.5,251.1 45.5,255.8 49.5,260.5 53.5,265.1 57.5,269.2 61.5,273.1 65.5,277 69.5,281.2 73.5,286.8 77.5,292.4 81.5,298 85.5,303.6 89.5,309.1 93.5,315.2 97.5,321.9 101.5,328.6 105.5,335.3 109.5,340.9 113.5,346.6 117.5,352.2 121.5,357.9 125.5,363.5 129.5,367.3 133.5,371.1 137.5,374.8 141.5,378.6 145.5,382.4 149.5,386.2 153.5,388.4 157.5,389.2 161.5,391.2 165.5,393.8 169.5,396.5 173.5,399.1 177.5,402.4 181.5,405.7 185.5,409.1 189.5,412.5 193.5,415 197.5,417.6 201.5,419.6 205.5,421.9 209.5,423.2 213.5,424.5 217.5,427.3 221.5,430.1 225.5,432.9 229.5,435.4 233.5,437.1 237.5,440.1 241.5,440.7 245.5,441 249.5,440.1 253.5,440.6 257.5,440.9 261.5,440.7 265.5,440.6 269.5,440.8 273.5,441.1 277.5,441 281.5,440.4 285.5,440.4 289.5,441.4 293.5,442.5 297.5,443.8 301.5,444.9 305.5,446 309.5,447.4 313.5,448.8 317.5,450.3 321.5,450.3 325.5,451.6 329.5,449.6 333.5,447.5 337.5,445.4 341.5,443.4 345.5,440.3 349.5,437.1 353.5,433.9 357.5,430.8 361.5,426.8 365.5,422.4 369.5,417.3 373.5,412.2 377.5,407.1 381.5,402 385.5,396.9 389.5,391.8 393.5,386.9 397.5,382.2 401.5,376.8 405.5,371.1 409.5,365.3 413.5,360.3 417.5,356.3 421.5,352.3 425.5,348.2 429.5,344.2 433.5,340.2 437.5,336 441.5,331.5 445.5,326.9 449.5,322.4 453.5,317.9 457.5,313.3 461.5,308.6 465.5,303.8 469.5,299 473.5,294.2 477.5,289.3 481.5,284.5 485.5,281.2 489.5,278.2 493.5,275.1 497.5,272.1 501.5,269.2 505.5,267.2 509.5,265.2 513.5,263.2 517.5,261.2 521.5,259.2 525.5,257.9 529.5,256.6 533.5,255.7 537.5,255.5 541.5,255.4 545.5,255.2 549.5,255.1 553.5,254.9 557.5,254.8 561.5,254.6 565.5,254.9 569.5,254.8 573.5,254.7 577.5,254.4 581.5,254 585.5,253.6 589.5,253.4 593.5,253.2 597.5,253 601.5,253.1 605.5,253.1 609.5,253.2 613.5,253.3 617.5,251.9 621.5,253.6 625.5,255.2 629.5,256.9 633.5,258.4 637.5,259.9 641.5,261.3 645.5,262.7 649.5,264.2 653.5,265.6 657.5,267.1 661.5,268.5 665.5,269.9 669.5,271.3 673.5,272.6 677.5,273.9 681.5,275.1 685.5,276.3 689.5,277.5 693.5,278.7 697.5,279.4 701.5,279.9 705.5,280.4 709.5,281 713.5,281.5 717.5,282 721.5,282.3 725.5,282.4 729.5,282.6 733.5,282.7 737.5,282.9 741.5,283 745.5,283.2 749.5,283.3 753.5,285.4 757.5,285.5 761.5,285 765.5,284.3 769.5,283.5 773.5,282.8 777.5,281.6 781.5,280 785.5,278 789.5,276 793.5,274.1 797.5,272.3 801.5,270 805.5,267.5 809.5,265.1 813.5,262.6 817.5,260.2 821.5,257.7 825.5,255.4 829.5,253.1 833.5,250.8 837.5,248.5 841.5,246.2 845.5,243.4 849.5,240.5 853.5,237.7 857.5,234.9 861.5,232.1 865.5,230.3 869.5,228.6 873.5,227 877.5,225.3 881.5,223.7 885.5,222.6 889.5,221.6 893.5,220.6 897.5,219.7 901.5,218.7 905.5,217.7 909.5,216.7 913.5,215.7 917.5,214.7 921.5,213.7 925.5,212.7 929.5,211.4 933.5,209.8 937.5,208.2 941.5,206.6 945.5,204.6 949.5,202.5 953.5,200.3 957.5,198.1 961.5,196.8 965.5,195.6 969.5,194.3 973.5,193.2 977.5,192.2 981.5,191.3 985.5,190.4 989.5,189.5 993.5,187.7 997.5,185.6 1001.5,183.6 1005.5,181.6 1009.5,179.4 1013.5,177.2 1017.5,175 1021.5,172.8 1025.5,170.1 1029.5,167.3 1033.5,164.6 1037.5,161.9 1041.5,160.5 1045.5,157.4 1049.5,154.2 1053.5,151.1 1057.5,148.2 1061.5,145.5 1065.5,142.8 1069.5,140 1073.5,137.3 1077.5,134.6 1081.5,131.8 1085.5,129.1 1089.5,126.6 1093.5,124 1097.5,121.4 1101.5,119.2 1105.5,117.5 1109.5,115.8 1113.5,114.1 1117.5,112.6 1121.5,111.3 1125.5,110 1129.5,108.6 1133.5,107 1137.5,105.2 1141.5,103.4 1145.5,101.8 1149.5,100.7 1153.5,99.5 1157.5,98.8 1161.5,98.3 1165.5,97.5 1169.5,96.3 1173.5,96.7 1177.5,97.1 1181.5,98.3 1185.5,99.5 1189.5,100.8 1193.5,102.1 1197.5,103.1 1201.5,104.1 1205.5,105.1 1209.5,107.1 1213.5,109.2 1217.5,111.3 1221.5,113.3 1225.5,115.2 1229.5,117.1 1233.5,119 1237.5,120.6 1241.5,121.3 1245.5,122 1249.5,122.5 1253.5,123.2 1257.5,123.9 1261.5,124.7 1265.5,125.3 1269.5,126.2 1273.5,127.3 1277.5,128.8 1281.5,130.1 1285.5,131.8 1289.5,133.4 1293.5,135.1 1297.5,136.6 1301.5,138.1 1305.5,139.5 1309.5,140.9 1313.5,142.3 1317.5,143.8 1321.5,145.4 1325.5,146.7 1329.5,147.5 1333.5,148 1337.5,149.8 1341.5,149.2 1345.5,148.4 1349.5,147.4 1353.5,146.4 1357.5,145.5 1361.5,144.5 1365.5,143.5 1369.5,141.8 1373.5,140.1 1377.5,138.3 1381.5,136.5 1385.5,134.4 1389.5,132.6 1393.5,130.8 1397.5,129.1 1401.5,127.5 1405.5,126.2 1409.5,124.8 1413.5,123.6 1417.5,122.4 1421.5,121.2 1425.5,120.1 1429.5,118.9 1433.5,117.9 1437.5,116.8 1441.5,115.3 1445.5,113.5 1449.5,111.7 1453.5,109.9 1457.5,108.4 1461.5,107 1465.5,105.6 1469.5,104.2 1473.5,103 1477.5,101.8 1481.5,100.6 1485.5,99.6 1489.5,99 1493.5,98.4 1497.5,97.8 1501.5,97.6 1505.5,96.5 1509.5,97.4 1513.5,98.3 1517.5,98.7 1521.5,98.7 1525.5,98.7 1529.5,98.7 1533.5,99.3 1537.5,100.1 1541.5,100.9 1545.5,101.7 1549.5,102.6 1553.5,103.5 1557.5,104.3 1561.5,105.1 1565.5,105.9 1569.5,106.8 1573.5,107.6 1577.5,108.3 1581.5,109 1585.5,109.6 1589.5,110.1 1593.5,110.3 1597.5,110.6 1601.5,110.9 1605.5,111 1609.5,111.1 1613.5,111.2 1617.5,111.3 1621.5,112.2 1625.5,113.1 1629.5,114.1 1633.5,115.1 1637.5,116.1 1641.5,117.1 1645.5,118.2 1649.5,119.4 1653.5,120.5 1657.5,121.6 1661.5,122.7" fill="none" stroke="#ffa500" stroke-width="1"/>
<polyline points="5.5,122.8 13.2,120.3 29.7,128.9 45.7,121.5 70.3,136.5 77.9,132.2 88.1,148.7 104.5,181.7 127.5,224.9 138.8,265.5 141.4,276.9 147.5,280.5 152.8,283.2 165,298 172.5,303.3 180.5,320.4 187.1,338.5 197,345.8 205.3,344.5 213.5,355 230,369.9 253.1,374.2 282.8,372.5 289.4,375.5 303.7,390.5 317.9,413.7 325.7,400.5 329.5,390.5 334.9,380.5 341.8,355.8 350.9,334.5 363.1,304 365.3,295.5 373.8,270.5 378.5,256 389.5,225.5 395,213.1 411.5,195 424.7,180.1 437.9,172.8 451.1,175.2 464.3,181.8 470.9,190.5 477.8,204.2 494.5,211.8 506.7,218.7 518.2,227.5 537.2,227.5 549.4,230.9 585.9,231.3 601.2,232 601.9,230.8 608,230.8 613.3,233 615.5,229.3 621,221 622.5,219.3 628.5,216 633.9,215 640,215 645.3,217 651.4,217.9 661.3,219.8 671.2,221 677.3,223.8 684.9,227 692.5,232 713.2,238.8 733,244.9 743.7,244.9 757.4,242.5 768.1,236.5 783.3,234.2 789.4,231.2 800,220.5 805.7,211.2 813.3,197.5 830.1,180 846.9,175.5 860.5,170.9 881.9,167.8 889.5,167.5 907.8,169.3 923,173.9 933.7,175.5 942.1,178.9 958.1,162.5 980.9,145.7 990.5,138 999.5,130.4 1010.3,112.1 1021,98.4 1036.2,80.1 1048.4,67.9 1056,59.5 1063.5,55 1069.7,53.9 1078.8,53.9 1086.5,57.5 1095.5,59.1 1103.2,63 1112.4,62.1 1120,63.3 1127.5,66.4 1136.7,67.2 1148.9,69.4 1158.1,77.1 1168.7,77.1 1174.8,75.5 1188.5,68.7 1205.3,63 1219,63.3 1232.7,64.1 1246.5,66.8 1254.5,70.8 1268.2,75.3 1277.3,78.8 1286.5,80.1 1293.9,84.5 1301.3,96.5 1310.5,106.7 1321.8,117 1326.4,121 1334.5,123.6 1340.1,119.3 1351.5,109 1359.5,104.5 1373.2,97 1378.9,89.5 1390.4,79.9 1399.5,71.9 1405.2,67.9 1415.5,63.5 1429.9,56.3 1440.5,56.3 1464.9,59.8 1477.1,65.9 1493.9,73.8 1503,73.5 1513.7,70 1532,68.9 1544.1,70 1560.9,76.8 1576.1,82.2 1589.8,88.2 1600.8,88.7 1613.3,93.1 1621.3,95.9 1630.5,95.9 1641.9,92.8 1649.9,92.5 1661.3,92.8" fill="none" stroke="#4682b4" stroke-width="1"/>
<polyline points="5.5,218.5 15.7,229.9 28.5,238.8 51.3,266.7 66,280.5 76.7,297.3 102.5,336.9 125.5,370.4 142.2,387.9 158.9,393.2 168.1,400.5 181.5,410.5 190.5,417 203.1,421.1 216.5,431 230.5,438.5 237.5,437.5 250.3,441.3 256.5,441.9 276.3,442.2 283.9,441 293.1,443.3 306.8,449 317.5,453.2 325,450.9 341.8,442.2 360.1,427.7 387.5,390.5 394.3,380.5 408.8,360.4 433.2,336.8 455,310.3 476.8,282.3 495.1,269.3 518.9,256.8 532.5,254.5 573.8,253.7 595.1,251.7 613.4,251.7 615.7,252.2 631,258.5 661.4,269.5 691.9,279.9 714.7,283.7 758.9,284.5 775.7,281.4 798.5,270.8 819.8,256.3 829.3,250.5 838.1,245.5 859,231.5 881.9,222.5 906.3,216.5 927.5,211.2 942.8,205.1 958.1,196.8 973.3,192.2 990,188.4 1003.8,181.5 1022,171.5 1037.5,160.8 1051.4,150.2 1081.9,127.3 1097.1,118.2 1112.4,112.1 1127.5,107.5 1142.8,101.4 1152,98.1 1165.7,96.9 1177.9,98.1 1193.1,103 1205.7,106.1 1221,114.1 1236.2,121.3 1251.4,124.3 1266.7,126.5 1281.9,131.2 1297.1,138.8 1312.4,144.1 1324.5,148 1332.2,149.5 1342.8,148 1365.7,142.5 1380.9,135.8 1393.3,129.4 1400.7,126.5 1416.2,121.8 1434.5,116.4 1454.3,107 1469.5,102 1484.7,98.2 1495.4,96.5 1503,96.9 1515.2,99.7 1530.4,99.7 1545.7,102.7 1560.9,106.5 1576.1,110 1589.8,111.1 1601.9,111.9 1617.9,112.3 1630.5,115.3 1641.9,118.2 1649.9,120.5 1661.3,123.7" fill="none" stroke="#4682b4" stroke-width="1"/>
<polyline points="5.5,316.3 15.7,336.9 29.5,351.3 37.1,368.8 43.9,400.5 69,432.5 76.5,464.5 85.8,482 126.2,519.3 142.2,499.8 157.5,497.5 165.5,501 174.1,500.5 190.9,491.9 197.5,493.5 206.1,501.5 215.3,501.5 229,505.5 237.4,503.5 240.5,505.9 246.8,509.1 253.2,511 272.2,511 284.9,507.5 301.5,505 317.9,492.8 342.1,523.7" fill="none" stroke="#4682b4" stroke-width="1"/>
<polyline points="410,523.7 415.7,516.7 423.3,511 430.9,502.1 441.1,482.4 450,459.5 456.3,441.8 471.3,390.5 477.4,358.8 489.5,334.5 507.8,305.5 517.2,287.7 525,283.1 550.9,281.5 573.8,275.8 595.1,272.8 605.7,275 613.4,272 620.3,286 629.4,303.5 638.5,311.1 653.1,317.2 669,324.1 691.9,329 707.1,327.9 730,325.5 743.7,324.8 765,327.9 774.1,327.9 789.4,318.7 798.5,317.2 813.8,322.9 824.4,322.2 836.5,314.9 850.3,301.2 864.5,289.8 889.5,273.2 923,250.5 941.3,228.7 961.1,231 973.3,234.8 988.5,237.1 997.5,236.5 1011.4,242.5 1022,246 1031.2,244.7 1043.4,239.4 1054.5,234.8 1081.1,200.5 1117.7,160.5 1135.2,144.1 1148.9,128.9 1158.1,118.2 1165.7,115.9 1173.3,119.7 1182.5,127.3 1190.5,135.8 1198.1,143.4 1213.3,160.9 1221,164.7 1230.1,173.8 1239.2,176.9 1259,180.2 1266.7,181.2 1278.8,183 1286.5,189.1 1294.1,190.9 1303.2,186 1315.4,180.7 1324.5,176.1 1333.7,174.5 1341.3,176.9 1348.9,181.2 1354.5,182.5 1412.5,182.5 1419,181.2 1428.1,178.7 1438,177.5 1439.8,175.5 1444.9,167.8 1449.7,162.1 1461.9,149.9 1477.1,135.5 1493.9,120.2 1501.5,119.8 1509.1,124.8 1516.7,128.3 1530.4,130.1 1545.7,133.9 1560.9,135.9 1576.1,137 1589.8,135.5 1600.8,135.1 1609.9,133 1619.1,131.7 1623.5,132.5 1630.5,137.5 1640.8,143.9 1649.9,149 1661.3,153" fill="none" stroke="#4682b4" stroke-width="1"/>
<rect x="5" y="149" width="1680" height="1" fill="#778899"/>
<rect x="5" y="127" width="1680" height="2" fill="#32cd32"/>
<rect x="5" y="181" width="1680" height="2" fill="#4169e1"/>
<rect x="5" y="266" width="1680" height="2" fill="#4169e1"/>
<rect x="5" y="335" width="1680" height="2" fill="#4169e1"/>
</g>
<g clip-path="url(#c2)" shape-rendering="crispEdges">
<rect x="5" y="586" width="1" height="33" fill="#c0c0c0"/>
<rect x="13" y="586" width="1" height="39" fill="#c0c0c0"/>
<rect x="21" y="586" width="1" height="39" fill="#c0c0c0"/>
<rect x="29" y="586" width="1" height="40" fill="#c0c0c0"/>
<rect x="37" y="586" width="1" height="47" fill="#c0c0c0"/>
<rect x="45" y="586" width="1" height="55" fill="#c0c0c0"/>
<rect x="53" y="586" width="1" height="54" fill="#c0c0c0"/>
<rect x="61" y="586" width="1" height="55" fill="#c0c0c0"/>
<rect x="69" y="586" width="1" height="56" fill="#c0c0c0"/>
<rect x="77" y="586" width="1" height="68" fill="#c0c0c0"/>
<rect x="85" y="586" width="1" height="69" fill="#c0c0c0"/>
<rect x="93" y="586" width="1" height="69" fill="#c0c0c0"/>
<rect x="101" y="586" width="1" height="69" fill="#c0c0c0"/>
<rect x="109" y="586" width="1" height="68" fill="#c0c0c0"/>
<rect x="117" y="586" width="1" height="69" fill="#c0c0c0"/>
<rect x="125" y="586" width="1" height="71" fill="#c0c0c0"/>
<rect x="133" y="586" width="1" height="63" fill="#c0c0c0"/>
<rect x="141" y="586" width="1" height="56" fill="#c0c0c0"/>
<rect x="149" y="586" width="1" height="50" fill="#c0c0c0"/>
<rect x="157" y="586" width="1" height="45" fill="#c0c0c0"/>
<rect x="165" y="586" width="1" height="45" fill="#c0c0c0"/>
<rect x="173" y="586" width="1" height="42" fill="#c0c0c0"/>
<rect x="181" y="586" width="1" height="43" fill="#c0c0c0"/>
<rect x="189" y="586" width="1" height="43" fill="#c0c0c0"/>
<rect x="197" y="586" width="1" height="43" fill="#c0c0c0"/>
<rect x="205" y="586" width="1" height="45" fill="#c0c0c0"/>
<rect x="213" y="586" width="1" height="45" fill="#c0c0c0"/>
<rect x="221" y="586" width="1" height="43" fill="#c0c0c0"/>
<rect x="229" y="586" width="1" height="45" fill="#c0c0c0"/>
<rect x="237" y="586" width="1" height="45" fill="#c0c0c0"/>
<rect x="245" y="586" width="1" height="45" fill="#c0c0c0"/>
<rect x="253" y="586" width="1" height="42" fill="#c0c0c0"/>
<rect x="261" y="586" width="1" height="35" fill="#c0c0c0"/>
<rect x="269" y="586" width="1" height="30" fill="#c0c0c0"/>
<rect x="277" y="586" width="1" height="28" fill="#c0c0c0"/>
<rect x="285" y="586" width="1" height="28" fill="#c0c0c0"/>
<rect x="293" y="586" width="1" height="25" fill="#c0c0c0"/>
<rect x="301" y="586" width="1" height="23" fill="#c0c0c0"/>
<rect x="309" y="586" width="1" height="22" fill="#c0c0c0"/>
<rect x="317" y="586" width="1" height="18" fill="#c0c0c0"/>
<rect x="325" y="586" width="1" height="11" fill="#c0c0c0"/>
<rect x="333" y="586" width="1" height="3" fill="#c0c0c0"/>
<rect x="341" y="580" width="1" height="7" fill="#c0c0c0"/>
<rect x="349" y="572" width="1" height="15" fill="#c0c0c0"/>
<rect x="357" y="567" width="1" height="20" fill="#c0c0c0"/>
<rect x="365" y="559" width="1" height="28" fill="#c0c0c0"/>
<rect x="373" y="551" width="1" height="36" fill="#c0c0c0"/>
<rect x="381" y="542" width="1" height="45" fill="#c0c0c0"/>
<rect x="389" y="536" width="1" height="51" fill="#c0c0c0"/>
<rect x="397" y="534" width="1" height="53" fill="#c0c0c0"/>
<rect x="405" y="534" width="1" height="53" fill="#c0c0c0"/>
<rect x="413" y="535" width="1" height="52" fill="#c0c0c0"/>
<rect x="421" y="535" width="1" height="52" fill="#c0c0c0"/>
<rect x="429" y="536" width="1" height="51" fill="#c0c0c0"/>
<rect x="437" y="537" width="1" height="50" fill="#c0c0c0"/>
<rect x="445" y="540" width="1" height="47" fill="#c0c0c0"/>
<rect x="453" y="543" width="1" height="44" fill="#c0c0c0"/>
<rect x="461" y="543" width="1" height="44" fill="#c0c0c0"/>
<rect x="469" y="543" width="1" height="44" fill="#c0c0c0"/>
<rect x="477" y="543" width="1" height="44" fill="#c0c0c0"/>
<rect x="485" y="544" width="1" height="43" fill="#c0c0c0"/>
<rect x="493" y="545" width="1" height="42" fill="#c0c0c0"/>
<rect x="501" y="547" width="1" height="40" fill="#c0c0c0"/>
<rect x="509" y="550" width="1" height="37" fill="#c0c0c0"/>
<rect x="517" y="551" width="1" height="36" fill="#c0c0c0"/>
<rect x="525" y="552" width="1" height="35" fill="#c0c0c0"/>
<rect x="533" y="554" width="1" height="33" fill="#c0c0c0"/>
<rect x="541" y="557" width="1" height="30" fill="#c0c0c0"/>
<rect x="549" y="559" width="1" height="28" fill="#c0c0c0"/>
<rect x="557" y="561" width="1" height="26" fill="#c0c0c0"/>
<rect x="565" y="563" width="1" height="24" fill="#c0c0c0"/>
<rect x="573" y="564" width="1" height="23" fill="#c0c0c0"/>
<rect x="581" y="566" width="1" height="21" fill="#c0c0c0"/>
<rect x="589" y="569" width="1" height="18" fill="#c0c0c0"/>
<rect x="597" y="570" width="1" height="17" fill="#c0c0c0"/>
<rect x="605" y="574" width="1" height="13" fill="#c0c0c0"/>
<rect x="613" y="576" width="1" height="11" fill="#c0c0c0"/>
<rect x="621" y="583" width="1" height="4" fill="#c0c0c0"/>
<rect x="637" y="586" width="1" height="3" fill="#c0c0c0"/>
<rect x="645" y="586" width="1" height="4" fill="#c0c0c0"/>
<rect x="653" y="586" width="1" height="5" fill="#c0c0c0"/>
<rect x="661" y="586" width="1" height="6" fill="#c0c0c0"/>
<rect x="669" y="586" width="1" height="7" fill="#c0c0c0"/>
<rect x="677" y="586" width="1" height="7" fill="#c0c0c0"/>
<rect x="685" y="586" width="1" height="8" fill="#c0c0c0"/>
<rect x="693" y="586" width="1" height="8" fill="#c0c0c0"/>
<rect x="701" y="586" width="1" height="6" fill="#c0c0c0"/>
<rect x="709" y="586" width="1" height="3" fill="#c0c0c0"/>
<rect x="717" y="586" width="1" height="1" fill="#c0c0c0"/>
<rect x="733" y="584" width="1" height="3" fill="#c0c0c0"/>
<rect x="741" y="583" width="1" height="4" fill="#c0c0c0"/>
<rect x="749" y="581" width="1" height="6" fill="#c0c0c0"/>
<rect x="757" y="580" width="1" height="7" fill="#c0c0c0"/>
<rect x="765" y="578" width="1" height="9" fill="#c0c0c0"/>
<rect x="773" y="578" width="1" height="9" fill="#c0c0c0"/>
<rect x="781" y="578" width="1" height="9" fill="#c0c0c0"/>
<rect x="789" y="576" width="1" height="11" fill="#c0c0c0"/>
<rect x="797" y="573" width="1" height="14" fill="#c0c0c0"/>
<rect x="805" y="570" width="1" height="17" fill="#c0c0c0"/>
<rect x="813" y="565" width="1" height="22" fill="#c0c0c0"/>
<rect x="821" y="562" width="1" height="25" fill="#c0c0c0"/>
<rect x="829" y="560" width="1" height="27" fill="#c0c0c0"/>
<rect x="837" y="561" width="1" height="26" fill="#c0c0c0"/>
<rect x="845" y="561" width="1" height="26" fill="#c0c0c0"/>
<rect x="853" y="561" width="1" height="26" fill="#c0c0c0"/>
<rect x="861" y="561" width="1" height="26" fill="#c0c0c0"/>
<rect x="869" y="562" width="1" height="25" fill="#c0c0c0"/>
<rect x="877" y="564" width="1" height="23" fill="#c0c0c0"/>
<rect x="885" y="565" width="1" height="22" fill="#c0c0c0"/>
<rect x="893" y="567" width="1" height="20" fill="#c0c0c0"/>
<rect x="901" y="568" width="1" height="19" fill="#c0c0c0"/>
<rect x="909" y="570" width="1" height="17" fill="#c0c0c0"/>
<rect x="917" y="571" width="1" height="16" fill="#c0c0c0"/>
<rect x="925" y="572" width="1" height="15" fill="#c0c0c0"/>
<rect x="933" y="572" width="1" height="15" fill="#c0c0c0"/>
<rect x="941" y="571" width="1" height="16" fill="#c0c0c0"/>
<rect x="949" y="568" width="1" height="19" fill="#c0c0c0"/>
<rect x="957" y="565" width="1" height="22" fill="#c0c0c0"/>
<rect x="965" y="563" width="1" height="24" fill="#c0c0c0"/>
<rect x="973" y="562" width="1" height="25" fill="#c0c0c0"/>
<rect x="981" y="562" width="1" height="25" fill="#c0c0c0"/>
<rect x="989" y="560" width="1" height="27" fill="#c0c0c0"/>
<rect x="997" y="559" width="1" height="28" fill="#c0c0c0"/>
<rect x="1005" y="557" width="1" height="30" fill="#c0c0c0"/>
<rect x="1013" y="554" width="1" height="33" fill="#c0c0c0"/>
<rect x="1021" y="552" width="1" height="35" fill="#c0c0c0"/>
<rect x="1029" y="550" width="1" height="37" fill="#c0c0c0"/>
<rect x="1037" y="549" width="1" height="38" fill="#c0c0c0"/>
<rect x="1045" y="548" width="1" height="39" fill="#c0c0c0"/>
<rect x="1053" y="547" width="1" height="40" fill="#c0c0c0"/>
<rect x="1061" y="547" width="1" height="40" fill="#c0c0c0"/>
<rect x="1069" y="548" width="1" height="39" fill="#c0c0c0"/>
<rect x="1077" y="550" width="1" height="37" fill="#c0c0c0"/>
<rect x="1085" y="553" width="1" height="34" fill="#c0c0c0"/>
<rect x="1093" y="554" width="1" height="33" fill="#c0c0c0"/>
<rect x="1101" y="557" width="1" height="30" fill="#c0c0c0"/>
<rect x="1109" y="558" width="1" height="29" fill="#c0c0c0"/>
<rect x="1117" y="560" width="1" height="27" fill="#c0c0c0"/>
<rect x="1125" y="562" width="1" height="25" fill="#c0c0c0"/>
<rect x="1133" y="563" width="1" height="24" fill="#c0c0c0"/>
<rect x="1141" y="562" width="1" height="25" fill="#c0c0c0"/>
<rect x="1149" y="564" width="1" height="23" fill="#c0c0c0"/>
<rect x="1157" y="566" width="1" height="21" fill="#c0c0c0"/>
<rect x="1165" y="568" width="1" height="19" fill="#c0c0c0"/>
<rect x="1173" y="571" width="1" height="16" fill="#c0c0c0"/>
<rect x="1181" y="576" width="1" height="11" fill="#c0c0c0"/>
<rect x="1189" y="580" width="1" height="7" fill="#c0c0c0"/>
<rect x="1197" y="584" width="1" height="3" fill="#c0c0c0"/>
<rect x="1213" y="586" width="1" height="4" fill="#c0c0c0"/>
<rect x="1221" y="586" width="1" height="7" fill="#c0c0c0"/>
<rect x="1229" y="586" width="1" height="9" fill="#c0c0c0"/>
<rect x="1237" y="586" width="1" height="10" fill="#c0c0c0"/>
<rect x="1245" y="586" width="1" height="8" fill="#c0c0c0"/>
<rect x="1253" y="586" width="1" height="6" fill="#c0c0c0"/>
<rect x="1261" y="586" width="1" height="6" fill="#c0c0c0"/>
<rect x="1269" y="586" width="1" height="6" fill="#c0c0c0"/>
<rect x="1277" y="586" width="1" height="6" fill="#c0c0c0"/>
<rect x="1285" y="586" width="1" height="8" fill="#c0c0c0"/>
<rect x="1293" y="586" width="1" height="10" fill="#c0c0c0"/>
<rect x="1301" y="586" width="1" height="9" fill="#c0c0c0"/>
<rect x="1309" y="586" width="1" height="8" fill="#c0c0c0"/>
<rect x="1317" y="586" width="1" height="8" fill="#c0c0c0"/>
<rect x="1325" y="586" width="1" height="8" fill="#c0c0c0"/>
<rect x="1333" y="586" width="1" height="6" fill="#c0c0c0"/>
<rect x="1341" y="586" width="1" height="1" fill="#c0c0c0"/>
<rect x="1349" y="585" width="1" height="2" fill="#c0c0c0"/>
<rect x="1357" y="583" width="1" height="4" fill="#c0c0c0"/>
<rect x="1365" y="582" width="1" height="5" fill="#c0c0c0"/>
<rect x="1373" y="580" width="1" height="7" fill="#c0c0c0"/>
<rect x="1381" y="577" width="1" height="10" fill="#c0c0c0"/>
<rect x="1389" y="574" width="1" height="13" fill="#c0c0c0"/>
<rect x="1397" y="572" width="1" height="15" fill="#c0c0c0"/>
<rect x="1405" y="571" width="1" height="16" fill="#c0c0c0"/>
<rect x="1413" y="571" width="1" height="16" fill="#c0c0c0"/>
<rect x="1421" y="570" width="1" height="17" fill="#c0c0c0"/>
<rect x="1429" y="570" width="1" height="17" fill="#c0c0c0"/>
<rect x="1437" y="571" width="1" height="16" fill="#c0c0c0"/>
<rect x="1445" y="572" width="1" height="15" fill="#c0c0c0"/>
<rect x="1453" y="573" width="1" height="14" fill="#c0c0c0"/>
<rect x="1461" y="574" width="1" height="13" fill="#c0c0c0"/>
<rect x="1469" y="575" width="1" height="12" fill="#c0c0c0"/>
<rect x="1477" y="577" width="1" height="10" fill="#c0c0c0"/>
<rect x="1485" y="579" width="1" height="8" fill="#c0c0c0"/>
<rect x="1493" y="580" width="1" height="7" fill="#c0c0c0"/>
<rect x="1501" y="582" width="1" height="5" fill="#c0c0c0"/>
<rect x="1509" y="585" width="1" height="2" fill="#c0c0c0"/>
<rect x="1533" y="586" width="1" height="1" fill="#c0c0c0"/>
<rect x="1541" y="586" width="1" height="1" fill="#c0c0c0"/>
<rect x="1549" y="586" width="1" height="2" fill="#c0c0c0"/>
<rect x="1557" y="586" width="1" height="2" fill="#c0c0c0"/>
<rect x="1565" y="586" width="1" height="2" fill="#c0c0c0"/>
<rect x="1573" y="586" width="1" height="1" fill="#c0c0c0"/>
<rect x="1581" y="586" width="1" height="1" fill="#c0c0c0"/>
<rect x="1589" y="586" width="1" height="1" fill="#c0c0c0"/>
<rect x="1637" y="586" width="1" height="5" fill="#c0c0c0"/>
<rect x="1645" y="586" width="1" height="7" fill="#c0c0c0"/>
<rect x="1653" y="586" width="1" height="9" fill="#c0c0c0"/>
<rect x="1661" y="586" width="1" height="10" fill="#c0c0c0"/>
<polyline points="5.5,598.5 37.2,614.8 61.7,630.7 78.8,636.8 98.4,645.4 110.5,650.3 125.3,652.7 144.9,652.7 159.5,647.8 181.5,640.5 203.5,633.2 215.8,630.7 245.2,630.7 264.8,628.8 281.9,624.5 306.3,618.5 325.9,611.1 347.9,600.1 367.5,586.2 382.2,573.2 401.8,556.1 414,547.5 418.9,545.1 428.7,539.7 443.5,537 458.1,537 475.2,539.5 499.7,542.5 521.7,545.1 543.7,549.5 563.3,554.4 587.8,558.5 612.2,565.9 626.9,570 641.6,576.9 661.2,583.7 675.9,588.5 693,592.1 710.1,592.8 724.8,591.5 746.8,588.5 763.9,585 783.5,581.8 803.1,577.4 820.2,573.2 832.5,570 847.2,567.1 864.3,563.4 881.4,561.7 901,563.4 925.5,567.1 942.5,569.1 964.5,569.1 984.2,566.5 1003.8,563.4 1018.5,559.3 1040.5,554.9 1057.5,551.2 1077.2,548.7 1096.7,548.7 1121.2,552.4 1140.8,557.3 1157.9,561 1175,563.4 1192.2,568.3 1206.9,573.2 1224,580.5 1238.7,586.7 1253.4,590.8 1263.2,592.1 1280.3,594.5 1297.5,595 1343.9,595 1353.7,592.1 1373.3,589.5 1395.3,583 1407.5,577.4 1419.8,575.2 1444.2,572 1483.4,572 1507.9,576.4 1525,579.8 1542.1,584.2 1559.2,586.2 1581.3,588.5 1615.5,588.5 1630.2,587.9 1644.9,589.1 1662,589.9" fill="none" stroke="#ff0000" stroke-width="1" stroke-dasharray="3 3"/>
</g>
<g clip-path="url(#c3)" shape-rendering="crispEdges">
<line x1="6" y1="697.5" x2="1685" y2="697.5" stroke="#c0c0c0" stroke-dasharray="3 3"/>
<line x1="6" y1="737.5" x2="1685" y2="737.5" stroke="#c0c0c0" stroke-dasharray="3 3"/>
<polyline points="5.5,737.5 13.5,741.1 21.5,728.9 29.5,730.5 37.5,738.7 45.5,742.4 53.5,728.9 61.5,730.1 69.5,732.5 77.5,741.1 85.5,731.3 93.5,729.5 101.5,729.5 109.5,730.5 117.5,732.5 125.5,735 133.5,722 141.5,722 149.5,720.8 157.5,722 165.5,726.9 173.5,722.8 181.5,726.5 189.5,726.9 197.5,725.2 205.5,730.9 213.5,726.5 221.5,728.9 229.5,726.5 237.5,728.9 245.5,728.2 253.5,725.2 261.5,717.9 269.5,719.8 277.5,722.8 285.5,725.2 293.5,722.3 301.5,720.8 309.5,722.3 317.5,720.8 325.5,708.1 333.5,705.5 341.5,703.9 349.5,703.2 357.5,702.7 365.5,698.3 373.5,695.4 381.5,693.4 389.5,692.7 397.5,698.3 405.5,703.9 413.5,702.7 421.5,702 429.5,703.9 437.5,702.7 445.5,705.5 453.5,706.9 461.5,702 469.5,699.5 477.5,700.8 485.5,702 493.5,702 501.5,703.9 509.5,705.5 517.5,703.9 525.5,702.7 533.5,702.7 541.5,709.8 549.5,708.1 557.5,707.5 565.5,708.8 573.5,706.9 581.5,711.8 589.5,713 597.5,713 605.5,722 613.5,717.1 621.5,732.1 629.5,730.9 637.5,726.5 645.5,720.8 653.5,724 661.5,722 669.5,723.3 677.5,722 685.5,725.2 693.5,720.8 701.5,718.5 709.5,711.3 717.5,709.8 725.5,711.3 733.5,710.1 741.5,710.1 749.5,706.9 757.5,710.1 765.5,705.5 773.5,708.8 781.5,711 789.5,703.9 797.5,700.8 805.5,697.8 813.5,691.7 821.5,696.4 829.5,697.8 837.5,706.9 845.5,705.2 853.5,703.2 861.5,703.2 869.5,708.8 877.5,709.3 885.5,708.1 893.5,708.8 901.5,710.1 909.5,711.8 917.5,711.3 925.5,710.1 933.5,704.4 941.5,702 949.5,693.9 957.5,693.9 965.5,697.1 973.5,694.5 981.5,698.8 989.5,695.1 997.5,694.5 1005.5,690.2 1013.5,688 1021.5,688 1029.5,686.8 1037.5,685.5 1045.5,688 1053.5,684.9 1061.5,691 1069.5,693.9 1077.5,697.1 1085.5,705.5 1093.5,701.2 1101.5,708.1 1109.5,703.9 1117.5,708.5 1125.5,710.1 1133.5,706.1 1141.5,701.2 1149.5,709.8 1157.5,711.8 1165.5,714.7 1173.5,719.5 1181.5,724 1189.5,726.9 1197.5,726 1205.5,728.9 1213.5,732.1 1221.5,727.7 1229.5,730.9 1237.5,722.8 1245.5,716.7 1253.5,718.5 1261.5,720.8 1269.5,722 1277.5,717.9 1285.5,729.5 1293.5,725.2 1301.5,720.8 1309.5,719.8 1317.5,722 1325.5,717.9 1333.5,716.2 1341.5,710.5 1349.5,706.9 1357.5,711 1365.5,711 1373.5,707.5 1381.5,703.9 1389.5,703.9 1397.5,702.7 1405.5,705.5 1413.5,708.8 1421.5,705.5 1429.5,705.5 1437.5,716.7 1445.5,711 1453.5,711 1461.5,712.5 1469.5,714.2 1477.5,717.9 1485.5,719.8 1493.5,716.2 1501.5,720.8 1509.5,725.7 1517.5,724 1525.5,719.1 1533.5,722 1541.5,719.1 1549.5,722 1557.5,718.4 1565.5,722 1573.5,719.1 1581.5,722 1589.5,714.9 1597.5,715.9 1605.5,717.1 1613.5,713.7 1621.5,713.7 1629.5,727.7 1637.5,730.1 1645.5,728.9 1653.5,728.9 1661.5,730.1" fill="none" stroke="#1e90ff" stroke-width="1"/>
</g>
<path d="M8 38h7l-3.5 4z" fill="#000"/>
<text x="20" y="43" font-size="10.2" fill="#000" stroke="#000" stroke-width="0.12" textLength="56.3" lengthAdjust="spacingAndGlyphs" xml:space="preserve">XAUUSD-,H4</text>
<text x="82.6" y="43" font-size="10.2" fill="#000" stroke="#000" stroke-width="0.12" textLength="33.6" lengthAdjust="spacingAndGlyphs" xml:space="preserve">1687.81</text>
<text x="118.9" y="43" font-size="10.2" fill="#000" stroke="#000" stroke-width="0.12" textLength="33.6" lengthAdjust="spacingAndGlyphs" xml:space="preserve">1688.78</text>
<text x="154.9" y="43" font-size="10.2" fill="#000" stroke="#000" stroke-width="0.12" textLength="33.6" lengthAdjust="spacingAndGlyphs" xml:space="preserve">1685.33</text>
<text x="190.9" y="43" font-size="10.2" fill="#000" stroke="#000" stroke-width="0.12" textLength="33.6" lengthAdjust="spacingAndGlyphs" xml:space="preserve">1686.70</text>
<text x="9" y="538" font-size="10.2" fill="#000" stroke="#000" stroke-width="0.12" textLength="122.5" lengthAdjust="spacingAndGlyphs" xml:space="preserve">MACD(12,26,9) -5.407 -1.844</text>
<text x="9" y="679" font-size="10.2" fill="#000" stroke="#000" stroke-width="0.12" textLength="68.2" lengthAdjust="spacingAndGlyphs" xml:space="preserve">RSI(14) 37.8343</text>
<text x="1690.8" y="62" font-size="10.2" fill="#000" stroke="#000" stroke-width="0.12" textLength="33.6" lengthAdjust="spacingAndGlyphs" xml:space="preserve">1745.50</text>
<text x="1690.8" y="95" font-size="10.2" fill="#000" stroke="#000" stroke-width="0.12" textLength="33.6" lengthAdjust="spacingAndGlyphs" xml:space="preserve">1724.50</text>
<text x="1690.8" y="128" font-size="10.2" fill="#000" stroke="#000" stroke-width="0.12" textLength="33.6" lengthAdjust="spacingAndGlyphs" xml:space="preserve">1703.50</text>
<text x="1690.8" y="161" font-size="10.2" fill="#000" stroke="#000" stroke-width="0.12" textLength="33.6" lengthAdjust="spacingAndGlyphs" xml:space="preserve">1681.30</text>
<text x="1690.8" y="194" font-size="10.2" fill="#000" stroke="#000" stroke-width="0.12" textLength="33.6" lengthAdjust="spacingAndGlyphs" xml:space="preserve">1659.70</text>
<text x="1690.8" y="227" font-size="10.2" fill="#000" stroke="#000" stroke-width="0.12" textLength="33.6" lengthAdjust="spacingAndGlyphs" xml:space="preserve">1638.70</text>
<text x="1690.8" y="260" font-size="10.2" fill="#000" stroke="#000" stroke-width="0.12" textLength="33.6" lengthAdjust="spacingAndGlyphs" xml:space="preserve">1617.10</text>
<text x="1690.8" y="293" font-size="10.2" fill="#000" stroke="#000" stroke-width="0.12" textLength="33.6" lengthAdjust="spacingAndGlyphs" xml:space="preserve">1595.50</text>
<text x="1690.8" y="326" font-size="10.2" fill="#000" stroke="#000" stroke-width="0.12" textLength="33.6" lengthAdjust="spacingAndGlyphs" xml:space="preserve">1573.90</text>
<text x="1690.8" y="359" font-size="10.2" fill="#000" stroke="#000" stroke-width="0.12" textLength="33.6" lengthAdjust="spacingAndGlyphs" xml:space="preserve">1552.30</text>
<text x="1690.8" y="392" font-size="10.2" fill="#000" stroke="#000" stroke-width="0.12" textLength="33.6" lengthAdjust="spacingAndGlyphs" xml:space="preserve">1531.30</text>
<text x="1690.8" y="425" font-size="10.2" fill="#000" stroke="#000" stroke-width="0.12" textLength="33.6" lengthAdjust="spacingAndGlyphs" xml:space="preserve">1509.70</text>
<text x="1690.8" y="458" font-size="10.2" fill="#000" stroke="#000" stroke-width="0.12" textLength="33.6" lengthAdjust="spacingAndGlyphs" xml:space="preserve">1488.10</text>
<text x="1690.8" y="491" font-size="10.2" fill="#000" stroke="#000" stroke-width="0.12" textLength="33.6" lengthAdjust="spacingAndGlyphs" xml:space="preserve">1466.50</text>
<text x="1690.8" y="524" font-size="10.2" fill="#000" stroke="#000" stroke-width="0.12" textLength="33.6" lengthAdjust="spacingAndGlyphs" xml:space="preserve">1445.50</text>
<g shape-rendering="crispEdges">
<rect x="1686" y="127" width="1" height="2" fill="#32cd32"/>
<rect x="1686" y="149" width="1" height="1" fill="#778899"/>
<rect x="1686" y="181" width="1" height="2" fill="#4169e1"/>
<rect x="1686" y="266" width="1" height="2" fill="#4169e1"/>
<rect x="1686" y="335" width="1" height="2" fill="#4169e1"/>
<rect x="1687" y="122" width="41" height="11" fill="#32cd32"/>
<rect x="1687" y="144" width="41" height="11" fill="#000"/>
<rect x="1687" y="176" width="41" height="11" fill="#4169e1"/>
<rect x="1687" y="261" width="41" height="11" fill="#4169e1"/>
<rect x="1687" y="330" width="41" height="11" fill="#4169e1"/>
</g>
<text x="1691.3" y="131" font-size="10.2" fill="#fff" stroke="#fff" stroke-width="0.12" textLength="33.6" lengthAdjust="spacingAndGlyphs" xml:space="preserve">1700.00</text>
<text x="1691.3" y="153" font-size="10.2" fill="#fff" stroke="#fff" stroke-width="0.12" textLength="33.6" lengthAdjust="spacingAndGlyphs" xml:space="preserve">1686.70</text>
<text x="1691.3" y="185" font-size="10.2" fill="#fff" stroke="#fff" stroke-width="0.12" textLength="33.6" lengthAdjust="spacingAndGlyphs" xml:space="preserve">1665.00</text>
<text x="1691.3" y="270" font-size="10.2" fill="#fff" stroke="#fff" stroke-width="0.12" textLength="33.6" lengthAdjust="spacingAndGlyphs" xml:space="preserve">1610.00</text>
<text x="1691.3" y="339" font-size="10.2" fill="#fff" stroke="#fff" stroke-width="0.12" textLength="33.6" lengthAdjust="spacingAndGlyphs" xml:space="preserve">1565.00</text>
<text x="1688.6" y="536" font-size="10.2" fill="#000" stroke="#000" stroke-width="0.12" textLength="28.4" lengthAdjust="spacingAndGlyphs" xml:space="preserve">32.459</text>
<text x="1689.6" y="590" font-size="10.2" fill="#000" stroke="#000" stroke-width="0.12" textLength="18.1" lengthAdjust="spacingAndGlyphs" xml:space="preserve">0.00</text>
<text x="1688.8" y="661" font-size="10.2" fill="#000" stroke="#000" stroke-width="0.12" textLength="26.4" lengthAdjust="spacingAndGlyphs" xml:space="preserve">-41.95</text>
<text x="1688.6" y="677" font-size="10.2" fill="#000" stroke="#000" stroke-width="0.12" textLength="15.5" lengthAdjust="spacingAndGlyphs" xml:space="preserve">100</text>
<text x="1688.6" y="701" font-size="10.2" fill="#000" stroke="#000" stroke-width="0.12" textLength="10.3" lengthAdjust="spacingAndGlyphs" xml:space="preserve">70</text>
<text x="1688.6" y="741" font-size="10.2" fill="#000" stroke="#000" stroke-width="0.12" textLength="10.3" lengthAdjust="spacingAndGlyphs" xml:space="preserve">30</text>
<text x="1688.8" y="764" font-size="10.2" fill="#000" stroke="#000" stroke-width="0.12" textLength="5.2" lengthAdjust="spacingAndGlyphs" xml:space="preserve">0</text>
<text x="4.2" y="780" font-size="10.2" fill="#000" stroke="#000" stroke-width="0.12" textLength="52.2" lengthAdjust="spacingAndGlyphs" xml:space="preserve">12 Mar 2020</text>
<text x="68.2" y="780" font-size="10.2" fill="#000" stroke="#000" stroke-width="0.12" textLength="54.8" lengthAdjust="spacingAndGlyphs" xml:space="preserve">16 Mar 04:00</text>
<text x="132.2" y="780" font-size="10.2" fill="#000" stroke="#000" stroke-width="0.12" textLength="54.8" lengthAdjust="spacingAndGlyphs" xml:space="preserve">17 Mar 12:00</text>
<text x="196.2" y="780" font-size="10.2" fill="#000" stroke="#000" stroke-width="0.12" textLength="54.8" lengthAdjust="spacingAndGlyphs" xml:space="preserve">18 Mar 20:00</text>
<text x="260.2" y="780" font-size="10.2" fill="#000" stroke="#000" stroke-width="0.12" textLength="54.8" lengthAdjust="spacingAndGlyphs" xml:space="preserve">20 Mar 04:00</text>
<text x="324.2" y="780" font-size="10.2" fill="#000" stroke="#000" stroke-width="0.12" textLength="54.8" lengthAdjust="spacingAndGlyphs" xml:space="preserve">23 Mar 12:00</text>
<text x="388.2" y="780" font-size="10.2" fill="#000" stroke="#000" stroke-width="0.12" textLength="54.8" lengthAdjust="spacingAndGlyphs" xml:space="preserve">24 Mar 20:00</text>
<text x="452.2" y="780" font-size="10.2" fill="#000" stroke="#000" stroke-width="0.12" textLength="54.8" lengthAdjust="spacingAndGlyphs" xml:space="preserve">26 Mar 04:00</text>
<text x="516.2" y="780" font-size="10.2" fill="#000" stroke="#000" stroke-width="0.12" textLength="54.8" lengthAdjust="spacingAndGlyphs" xml:space="preserve">27 Mar 12:00</text>
<text x="580.2" y="780" font-size="10.2" fill="#000" stroke="#000" stroke-width="0.12" textLength="54.8" lengthAdjust="spacingAndGlyphs" xml:space="preserve">30 Mar 20:00</text>
<text x="644.2" y="780" font-size="10.2" fill="#000" stroke="#000" stroke-width="0.12" textLength="48.1" lengthAdjust="spacingAndGlyphs" xml:space="preserve">1 Apr 04:00</text>
<text x="708.2" y="780" font-size="10.2" fill="#000" stroke="#000" stroke-width="0.12" textLength="48.1" lengthAdjust="spacingAndGlyphs" xml:space="preserve">2 Apr 12:00</text>
<text x="772.2" y="780" font-size="10.2" fill="#000" stroke="#000" stroke-width="0.12" textLength="48.1" lengthAdjust="spacingAndGlyphs" xml:space="preserve">5 Apr 23:00</text>
<text x="836.2" y="780" font-size="10.2" fill="#000" stroke="#000" stroke-width="0.12" textLength="48.1" lengthAdjust="spacingAndGlyphs" xml:space="preserve">7 Apr 04:00</text>
<text x="900.2" y="780" font-size="10.2" fill="#000" stroke="#000" stroke-width="0.12" textLength="48.1" lengthAdjust="spacingAndGlyphs" xml:space="preserve">8 Apr 12:00</text>
<text x="964.2" y="780" font-size="10.2" fill="#000" stroke="#000" stroke-width="0.12" textLength="48.1" lengthAdjust="spacingAndGlyphs" xml:space="preserve">9 Apr 20:00</text>
<text x="1028.2" y="780" font-size="10.2" fill="#000" stroke="#000" stroke-width="0.12" textLength="53.3" lengthAdjust="spacingAndGlyphs" xml:space="preserve">14 Apr 00:00</text>
<text x="1092.2" y="780" font-size="10.2" fill="#000" stroke="#000" stroke-width="0.12" textLength="53.3" lengthAdjust="spacingAndGlyphs" xml:space="preserve">15 Apr 08:00</text>
<text x="1156.2" y="780" font-size="10.2" fill="#000" stroke="#000" stroke-width="0.12" textLength="53.3" lengthAdjust="spacingAndGlyphs" xml:space="preserve">16 Apr 16:00</text>
<text x="1220.2" y="780" font-size="10.2" fill="#000" stroke="#000" stroke-width="0.12" textLength="53.3" lengthAdjust="spacingAndGlyphs" xml:space="preserve">20 Apr 00:00</text>
<text x="1284.2" y="780" font-size="10.2" fill="#000" stroke="#000" stroke-width="0.12" textLength="53.3" lengthAdjust="spacingAndGlyphs" xml:space="preserve">21 Apr 08:00</text>
<text x="1348.2" y="780" font-size="10.2" fill="#000" stroke="#000" stroke-width="0.12" textLength="53.3" lengthAdjust="spacingAndGlyphs" xml:space="preserve">22 Apr 16:00</text>
<text x="1412.2" y="780" font-size="10.2" fill="#000" stroke="#000" stroke-width="0.12" textLength="53.3" lengthAdjust="spacingAndGlyphs" xml:space="preserve">24 Apr 00:00</text>
<text x="1476.2" y="780" font-size="10.2" fill="#000" stroke="#000" stroke-width="0.12" textLength="53.3" lengthAdjust="spacingAndGlyphs" xml:space="preserve">27 Apr 08:00</text>
<text x="1540.2" y="780" font-size="10.2" fill="#000" stroke="#000" stroke-width="0.12" textLength="53.3" lengthAdjust="spacingAndGlyphs" xml:space="preserve">28 Apr 16:00</text>
<text x="1604.2" y="780" font-size="10.2" fill="#000" stroke="#000" stroke-width="0.12" textLength="53.3" lengthAdjust="spacingAndGlyphs" xml:space="preserve">30 Apr 00:00</text>
<text x="1236" y="429.5" font-size="32.5" fill="#ff1e00" font-family="'Liberation Sans', 'Noto Sans CJK SC', sans-serif" textLength="162.5" lengthAdjust="spacingAndGlyphs">多空转折点</text>
<text x="1397" y="429" font-size="34.5" fill="#ff1e00" font-family="'Liberation Sans', 'Noto Sans CJK SC', sans-serif" textLength="76" lengthAdjust="spacingAndGlyphs">1700</text>
</svg>
</body></html>
